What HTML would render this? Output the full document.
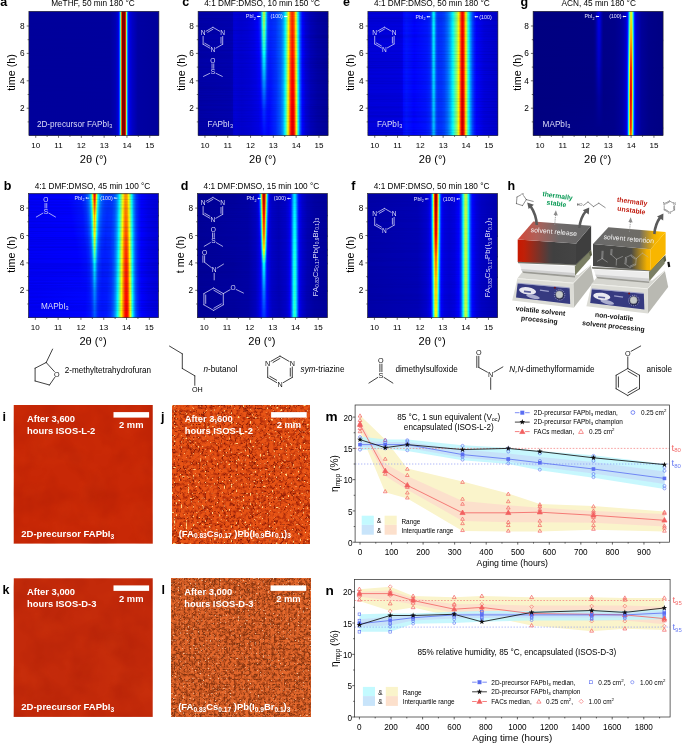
<!DOCTYPE html>
<html><head><meta charset="utf-8"><title>figure</title><style>html,body{margin:0;padding:0;background:#fff}svg{display:block;opacity:0.999}text{font-family:"Liberation Sans",sans-serif}</style></head><body><svg width="685" height="744" viewBox="0 0 685 744" font-family="Liberation Sans, sans-serif"><defs><linearGradient id="rg" x1="0" y1="0" x2="0" y2="1"><stop offset="0" stop-color="#000"/><stop offset="1" stop-color="#fff"/></linearGradient><mask id="ramp" maskContentUnits="objectBoundingBox"><rect width="1" height="1" fill="url(#rg)"/></mask><filter id="hn" x="0" y="0" width="100%" height="100%" color-interpolation-filters="sRGB"><feTurbulence type="fractalNoise" baseFrequency="0.004 0.7" numOctaves="2" seed="3"/><feColorMatrix type="matrix" values="0 0 0 0 0  0 0 0 0 0  0 0 0 0 0.2  1.6 0 0 0 -0.62"/></filter><linearGradient id="ga0" gradientUnits="userSpaceOnUse" x1="28.90" x2="158.90" y1="0" y2="0"><stop offset="0" stop-color="#00009b"/><stop offset=".6231" stop-color="#00009d"/><stop offset=".6654" stop-color="#0000b2"/><stop offset=".6808" stop-color="#0000cb"/><stop offset=".6885" stop-color="#0000e9"/><stop offset=".6923" stop-color="#000aff"/><stop offset=".6962" stop-color="#0043ff"/><stop offset=".7" stop-color="#009fff"/><stop offset=".7038" stop-color="#26ffd9"/><stop offset=".7077" stop-color="#d0ff2f"/><stop offset=".7115" stop-color="#ff7300"/><stop offset=".7154" stop-color="#c00000"/><stop offset=".7192" stop-color="#800000"/><stop offset=".7385" stop-color="#800000"/><stop offset=".7423" stop-color="#e50000"/><stop offset=".7462" stop-color="#ff9b00"/><stop offset=".75" stop-color="#acff53"/><stop offset=".7538" stop-color="#0cfff3"/><stop offset=".7577" stop-color="#0092ff"/><stop offset=".7615" stop-color="#0042ff"/><stop offset=".7654" stop-color="#0013ff"/><stop offset=".7692" stop-color="#0000f8"/><stop offset=".7769" stop-color="#0000e1"/><stop offset=".7962" stop-color="#0000c5"/><stop offset=".8385" stop-color="#0000a3"/><stop offset="1" stop-color="#00009b"/></linearGradient><linearGradient id="ga1" gradientUnits="userSpaceOnUse" x1="28.90" x2="158.90" y1="0" y2="0"><stop offset="0" stop-color="#00009b"/><stop offset=".6231" stop-color="#00009d"/><stop offset=".6654" stop-color="#0000b2"/><stop offset=".6808" stop-color="#0000cb"/><stop offset=".6885" stop-color="#0000e9"/><stop offset=".6923" stop-color="#000aff"/><stop offset=".6962" stop-color="#0043ff"/><stop offset=".7" stop-color="#009fff"/><stop offset=".7038" stop-color="#26ffd9"/><stop offset=".7077" stop-color="#d0ff2f"/><stop offset=".7115" stop-color="#ff7300"/><stop offset=".7154" stop-color="#c00000"/><stop offset=".7192" stop-color="#800000"/><stop offset=".7385" stop-color="#800000"/><stop offset=".7423" stop-color="#e50000"/><stop offset=".7462" stop-color="#ff9b00"/><stop offset=".75" stop-color="#acff53"/><stop offset=".7538" stop-color="#0cfff3"/><stop offset=".7577" stop-color="#0092ff"/><stop offset=".7615" stop-color="#0042ff"/><stop offset=".7654" stop-color="#0013ff"/><stop offset=".7692" stop-color="#0000f8"/><stop offset=".7769" stop-color="#0000e1"/><stop offset=".7962" stop-color="#0000c5"/><stop offset=".8385" stop-color="#0000a3"/><stop offset="1" stop-color="#00009b"/></linearGradient><linearGradient id="gc0" gradientUnits="userSpaceOnUse" x1="198.10" x2="328.10" y1="0" y2="0"><stop offset="0" stop-color="#0000a7"/><stop offset=".25" stop-color="#0000b1"/><stop offset=".2654" stop-color="#0000b6"/><stop offset=".2692" stop-color="#0000d0"/><stop offset=".2846" stop-color="#0000d8"/><stop offset=".3308" stop-color="#0000d0"/><stop offset=".3769" stop-color="#0000d7"/><stop offset=".4231" stop-color="#0000e6"/><stop offset=".4538" stop-color="#0000fd"/><stop offset=".4692" stop-color="#0018ff"/><stop offset=".4769" stop-color="#0038ff"/><stop offset=".4808" stop-color="#0056ff"/><stop offset=".4846" stop-color="#0082ff"/><stop offset=".4923" stop-color="#04fffb"/><stop offset=".5" stop-color="#8fff70"/><stop offset=".5038" stop-color="#baff45"/><stop offset=".5077" stop-color="#c5ff3a"/><stop offset=".5115" stop-color="#aeff51"/><stop offset=".5154" stop-color="#7cff83"/><stop offset=".5192" stop-color="#38ffc7"/><stop offset=".5231" stop-color="#00f0ff"/><stop offset=".5269" stop-color="#00b1ff"/><stop offset=".5308" stop-color="#007fff"/><stop offset=".5346" stop-color="#005dff"/><stop offset=".5385" stop-color="#0047ff"/><stop offset=".5462" stop-color="#0032ff"/><stop offset=".5615" stop-color="#0029ff"/><stop offset=".6" stop-color="#0039ff"/><stop offset=".6346" stop-color="#0065ff"/><stop offset=".6538" stop-color="#009cff"/><stop offset=".6615" stop-color="#00c1ff"/><stop offset=".6692" stop-color="#00f2ff"/><stop offset=".6731" stop-color="#11ffee"/><stop offset=".6846" stop-color="#7eff81"/><stop offset=".6962" stop-color="#ffff00"/><stop offset=".7038" stop-color="#ffac00"/><stop offset=".7115" stop-color="#ff6700"/><stop offset=".7192" stop-color="#ff3b00"/><stop offset=".7269" stop-color="#ff2e00"/><stop offset=".7308" stop-color="#ff3600"/><stop offset=".7385" stop-color="#ff6600"/><stop offset=".7423" stop-color="#ff8c00"/><stop offset=".75" stop-color="#ffed00"/><stop offset=".7538" stop-color="#daff25"/><stop offset=".7692" stop-color="#00fdff"/><stop offset=".7769" stop-color="#00a4ff"/><stop offset=".7846" stop-color="#0060ff"/><stop offset=".7923" stop-color="#002fff"/><stop offset=".8038" stop-color="#0001ff"/><stop offset=".8269" stop-color="#0000d5"/><stop offset=".8654" stop-color="#0000b7"/><stop offset=".9192" stop-color="#0000a4"/><stop offset="1" stop-color="#000099"/></linearGradient><linearGradient id="gc1" gradientUnits="userSpaceOnUse" x1="198.10" x2="328.10" y1="0" y2="0"><stop offset="0" stop-color="#0000a7"/><stop offset=".25" stop-color="#0000b0"/><stop offset=".2654" stop-color="#0000b5"/><stop offset=".2692" stop-color="#0000d0"/><stop offset=".2846" stop-color="#0000d8"/><stop offset=".3308" stop-color="#0000d0"/><stop offset=".3808" stop-color="#0000d7"/><stop offset=".4269" stop-color="#0000e6"/><stop offset=".4577" stop-color="#0000fd"/><stop offset=".4692" stop-color="#0011ff"/><stop offset=".4769" stop-color="#002dff"/><stop offset=".4808" stop-color="#0047ff"/><stop offset=".4846" stop-color="#006eff"/><stop offset=".4923" stop-color="#00dfff"/><stop offset=".4962" stop-color="#20ffdf"/><stop offset=".5" stop-color="#59ffa6"/><stop offset=".5038" stop-color="#7eff81"/><stop offset=".5077" stop-color="#88ff77"/><stop offset=".5115" stop-color="#74ff8b"/><stop offset=".5154" stop-color="#49ffb6"/><stop offset=".5192" stop-color="#0efff1"/><stop offset=".5231" stop-color="#00cfff"/><stop offset=".5269" stop-color="#0099ff"/><stop offset=".5308" stop-color="#006eff"/><stop offset=".5346" stop-color="#0050ff"/><stop offset=".5423" stop-color="#0032ff"/><stop offset=".5577" stop-color="#0025ff"/><stop offset=".5962" stop-color="#0034ff"/><stop offset=".6308" stop-color="#005dff"/><stop offset=".6423" stop-color="#0076ff"/><stop offset=".6538" stop-color="#009cff"/><stop offset=".6615" stop-color="#00c2ff"/><stop offset=".6692" stop-color="#00f5ff"/><stop offset=".6731" stop-color="#14ffeb"/><stop offset=".6769" stop-color="#36ffc9"/><stop offset=".6923" stop-color="#d9ff26"/><stop offset=".6962" stop-color="#fff900"/><stop offset=".7077" stop-color="#ff8000"/><stop offset=".7154" stop-color="#ff4500"/><stop offset=".7231" stop-color="#ff2700"/><stop offset=".7269" stop-color="#ff2400"/><stop offset=".7308" stop-color="#ff2b00"/><stop offset=".7385" stop-color="#ff5b00"/><stop offset=".7423" stop-color="#ff8200"/><stop offset=".75" stop-color="#ffe500"/><stop offset=".7538" stop-color="#e1ff1e"/><stop offset=".7692" stop-color="#01fffe"/><stop offset=".7769" stop-color="#00a6ff"/><stop offset=".7846" stop-color="#0060ff"/><stop offset=".7923" stop-color="#002fff"/><stop offset=".8038" stop-color="#0001ff"/><stop offset=".8269" stop-color="#0000d5"/><stop offset=".8654" stop-color="#0000b7"/><stop offset=".9192" stop-color="#0000a4"/><stop offset="1" stop-color="#000099"/></linearGradient><linearGradient id="gc2" gradientUnits="userSpaceOnUse" x1="198.10" x2="328.10" y1="0" y2="0"><stop offset="0" stop-color="#0000a7"/><stop offset=".25" stop-color="#0000b0"/><stop offset=".2654" stop-color="#0000b5"/><stop offset=".2692" stop-color="#0000cf"/><stop offset=".2846" stop-color="#0000d7"/><stop offset=".3308" stop-color="#0000cf"/><stop offset=".3846" stop-color="#0000d6"/><stop offset=".4346" stop-color="#0000e5"/><stop offset=".4654" stop-color="#0000fc"/><stop offset=".4731" stop-color="#000bff"/><stop offset=".4808" stop-color="#002aff"/><stop offset=".4885" stop-color="#0069ff"/><stop offset=".5" stop-color="#00ebff"/><stop offset=".5038" stop-color="#06fff9"/><stop offset=".5077" stop-color="#0dfff2"/><stop offset=".5115" stop-color="#00ffff"/><stop offset=".5154" stop-color="#00e1ff"/><stop offset=".5269" stop-color="#0068ff"/><stop offset=".5346" stop-color="#0036ff"/><stop offset=".5423" stop-color="#0023ff"/><stop offset=".5538" stop-color="#001cff"/><stop offset=".5923" stop-color="#002dff"/><stop offset=".6308" stop-color="#005bff"/><stop offset=".6423" stop-color="#0075ff"/><stop offset=".6538" stop-color="#009eff"/><stop offset=".6615" stop-color="#00c5ff"/><stop offset=".6692" stop-color="#00faff"/><stop offset=".6769" stop-color="#3dffc2"/><stop offset=".6923" stop-color="#e4ff1b"/><stop offset=".6962" stop-color="#ffed00"/><stop offset=".7077" stop-color="#ff7100"/><stop offset=".7154" stop-color="#ff3400"/><stop offset=".7231" stop-color="#ff1400"/><stop offset=".7269" stop-color="#ff1000"/><stop offset=".7308" stop-color="#ff1600"/><stop offset=".7385" stop-color="#ff4600"/><stop offset=".7423" stop-color="#ff6e00"/><stop offset=".75" stop-color="#ffd400"/><stop offset=".7538" stop-color="#f0ff0f"/><stop offset=".7692" stop-color="#07fff8"/><stop offset=".7731" stop-color="#00d5ff"/><stop offset=".7808" stop-color="#0082ff"/><stop offset=".7885" stop-color="#0046ff"/><stop offset=".7962" stop-color="#001dff"/><stop offset=".8038" stop-color="#0001ff"/><stop offset=".8269" stop-color="#0000d5"/><stop offset=".8654" stop-color="#0000b7"/><stop offset=".9192" stop-color="#0000a4"/><stop offset="1" stop-color="#000099"/></linearGradient><linearGradient id="gc3" gradientUnits="userSpaceOnUse" x1="198.10" x2="328.10" y1="0" y2="0"><stop offset="0" stop-color="#0000a7"/><stop offset=".25" stop-color="#0000af"/><stop offset=".2654" stop-color="#0000b4"/><stop offset=".2692" stop-color="#0000ce"/><stop offset=".2846" stop-color="#0000d6"/><stop offset=".3346" stop-color="#0000ce"/><stop offset=".3923" stop-color="#0000d5"/><stop offset=".4462" stop-color="#0000e5"/><stop offset=".4731" stop-color="#0000fa"/><stop offset=".4769" stop-color="#0004ff"/><stop offset=".4846" stop-color="#0020ff"/><stop offset=".5" stop-color="#0087ff"/><stop offset=".5077" stop-color="#009cff"/><stop offset=".5154" stop-color="#0083ff"/><stop offset=".5269" stop-color="#003cff"/><stop offset=".5346" stop-color="#001fff"/><stop offset=".5462" stop-color="#0013ff"/><stop offset=".5615" stop-color="#0016ff"/><stop offset=".6038" stop-color="#0034ff"/><stop offset=".6346" stop-color="#0062ff"/><stop offset=".6538" stop-color="#00a0ff"/><stop offset=".6615" stop-color="#00c9ff"/><stop offset=".6692" stop-color="#00ffff"/><stop offset=".6808" stop-color="#6cff93"/><stop offset=".6923" stop-color="#f0ff0f"/><stop offset=".6962" stop-color="#ffe000"/><stop offset=".7038" stop-color="#ff8900"/><stop offset=".7115" stop-color="#ff4000"/><stop offset=".7192" stop-color="#ff0f00"/><stop offset=".7231" stop-color="#ff0100"/><stop offset=".7308" stop-color="#ff0100"/><stop offset=".7346" stop-color="#ff1300"/><stop offset=".7423" stop-color="#ff5900"/><stop offset=".75" stop-color="#ffc300"/><stop offset=".7538" stop-color="#ffff00"/><stop offset=".7692" stop-color="#0dfff2"/><stop offset=".7731" stop-color="#00d9ff"/><stop offset=".7808" stop-color="#0084ff"/><stop offset=".7885" stop-color="#0047ff"/><stop offset=".7962" stop-color="#001dff"/><stop offset=".8038" stop-color="#0001ff"/><stop offset=".8269" stop-color="#0000d5"/><stop offset=".8654" stop-color="#0000b7"/><stop offset=".9192" stop-color="#0000a4"/><stop offset="1" stop-color="#000099"/></linearGradient><linearGradient id="gc4" gradientUnits="userSpaceOnUse" x1="198.10" x2="328.10" y1="0" y2="0"><stop offset="0" stop-color="#0000a7"/><stop offset=".25" stop-color="#0000af"/><stop offset=".2654" stop-color="#0000b4"/><stop offset=".2692" stop-color="#0000ce"/><stop offset=".2846" stop-color="#0000d6"/><stop offset=".3346" stop-color="#0000cd"/><stop offset=".4115" stop-color="#0000d7"/><stop offset=".4654" stop-color="#0000e7"/><stop offset=".4846" stop-color="#0000fd"/><stop offset=".5" stop-color="#002cff"/><stop offset=".5077" stop-color="#0036ff"/><stop offset=".5308" stop-color="#000dff"/><stop offset=".55" stop-color="#0009ff"/><stop offset=".5962" stop-color="#0029ff"/><stop offset=".6308" stop-color="#0058ff"/><stop offset=".65" stop-color="#0091ff"/><stop offset=".6577" stop-color="#00b6ff"/><stop offset=".6692" stop-color="#06fff9"/><stop offset=".6808" stop-color="#75ff8a"/><stop offset=".6923" stop-color="#fbff04"/><stop offset=".7077" stop-color="#ff5300"/><stop offset=".7154" stop-color="#ff1300"/><stop offset=".7192" stop-color="#fc0000"/><stop offset=".7269" stop-color="#e80000"/><stop offset=".7308" stop-color="#eb0000"/><stop offset=".7346" stop-color="#fc0000"/><stop offset=".7385" stop-color="#ff1b00"/><stop offset=".7423" stop-color="#ff4400"/><stop offset=".7462" stop-color="#ff7700"/><stop offset=".7538" stop-color="#fff000"/><stop offset=".7577" stop-color="#cdff32"/><stop offset=".7692" stop-color="#13ffec"/><stop offset=".7731" stop-color="#00ddff"/><stop offset=".7808" stop-color="#0086ff"/><stop offset=".7885" stop-color="#0048ff"/><stop offset=".7962" stop-color="#001dff"/><stop offset=".8038" stop-color="#0001ff"/><stop offset=".8269" stop-color="#0000d5"/><stop offset=".8654" stop-color="#0000b7"/><stop offset=".9192" stop-color="#0000a4"/><stop offset="1" stop-color="#000098"/></linearGradient><linearGradient id="gc5" gradientUnits="userSpaceOnUse" x1="198.10" x2="328.10" y1="0" y2="0"><stop offset="0" stop-color="#0000a6"/><stop offset=".25" stop-color="#0000af"/><stop offset=".2654" stop-color="#0000b4"/><stop offset=".2692" stop-color="#0000ce"/><stop offset=".2885" stop-color="#0000d7"/><stop offset=".3346" stop-color="#0000cd"/><stop offset=".4" stop-color="#0000d4"/><stop offset=".4692" stop-color="#0000e4"/><stop offset=".4962" stop-color="#0002ff"/><stop offset=".5077" stop-color="#000dff"/><stop offset=".5423" stop-color="#0002ff"/><stop offset=".5962" stop-color="#0027ff"/><stop offset=".6308" stop-color="#0058ff"/><stop offset=".65" stop-color="#0093ff"/><stop offset=".6577" stop-color="#00baff"/><stop offset=".6654" stop-color="#00edff"/><stop offset=".6692" stop-color="#0dfff2"/><stop offset=".6769" stop-color="#55ffaa"/><stop offset=".6885" stop-color="#d8ff27"/><stop offset=".6923" stop-color="#fff700"/><stop offset=".7038" stop-color="#ff6d00"/><stop offset=".7115" stop-color="#ff2100"/><stop offset=".7154" stop-color="#ff0300"/><stop offset=".7192" stop-color="#eb0000"/><stop offset=".7269" stop-color="#d40000"/><stop offset=".7308" stop-color="#d60000"/><stop offset=".7385" stop-color="#ff0500"/><stop offset=".7462" stop-color="#ff6300"/><stop offset=".7538" stop-color="#ffe100"/><stop offset=".7577" stop-color="#daff25"/><stop offset=".7692" stop-color="#19ffe6"/><stop offset=".7731" stop-color="#00e2ff"/><stop offset=".7808" stop-color="#0088ff"/><stop offset=".7885" stop-color="#0048ff"/><stop offset=".7962" stop-color="#001dff"/><stop offset=".8038" stop-color="#0001ff"/><stop offset=".8269" stop-color="#0000d6"/><stop offset=".8654" stop-color="#0000b8"/><stop offset=".9192" stop-color="#0000a4"/><stop offset="1" stop-color="#000098"/></linearGradient><linearGradient id="ge0" gradientUnits="userSpaceOnUse" x1="367.90" x2="497.90" y1="0" y2="0"><stop offset="0" stop-color="#0000da"/><stop offset=".2423" stop-color="#0000df"/><stop offset=".2654" stop-color="#0000e6"/><stop offset=".2692" stop-color="#0007ff"/><stop offset=".2962" stop-color="#0015ff"/><stop offset=".3577" stop-color="#0003ff"/><stop offset=".4577" stop-color="#0017ff"/><stop offset=".4769" stop-color="#0028ff"/><stop offset=".4846" stop-color="#0044ff"/><stop offset=".4885" stop-color="#005fff"/><stop offset=".5" stop-color="#00ddff"/><stop offset=".5038" stop-color="#00f7ff"/><stop offset=".5077" stop-color="#00faff"/><stop offset=".5115" stop-color="#00e3ff"/><stop offset=".5231" stop-color="#006aff"/><stop offset=".5308" stop-color="#003fff"/><stop offset=".5423" stop-color="#0030ff"/><stop offset=".5654" stop-color="#0032ff"/><stop offset=".5885" stop-color="#0043ff"/><stop offset=".6115" stop-color="#006aff"/><stop offset=".6308" stop-color="#00a1ff"/><stop offset=".6538" stop-color="#02fffd"/><stop offset=".6846" stop-color="#9cff63"/><stop offset=".6962" stop-color="#ebff14"/><stop offset=".7" stop-color="#fff100"/><stop offset=".7192" stop-color="#ff2400"/><stop offset=".7231" stop-color="#ff0b00"/><stop offset=".7269" stop-color="#fe0000"/><stop offset=".7308" stop-color="#ff0400"/><stop offset=".7346" stop-color="#ff1900"/><stop offset=".7385" stop-color="#ff3c00"/><stop offset=".75" stop-color="#ffd400"/><stop offset=".7538" stop-color="#f5ff0a"/><stop offset=".7654" stop-color="#67ff98"/><stop offset=".7731" stop-color="#1bffe4"/><stop offset=".7769" stop-color="#00f7ff"/><stop offset=".7885" stop-color="#009fff"/><stop offset=".8038" stop-color="#004cff"/><stop offset=".8192" stop-color="#001bff"/><stop offset=".8346" stop-color="#0001ff"/><stop offset=".8923" stop-color="#0000dc"/><stop offset="1" stop-color="#0000ca"/></linearGradient><linearGradient id="ge1" gradientUnits="userSpaceOnUse" x1="367.90" x2="497.90" y1="0" y2="0"><stop offset="0" stop-color="#0000da"/><stop offset=".2385" stop-color="#0000df"/><stop offset=".2654" stop-color="#0000e6"/><stop offset=".2692" stop-color="#0007ff"/><stop offset=".2962" stop-color="#0015ff"/><stop offset=".35" stop-color="#0003ff"/><stop offset=".4423" stop-color="#0011ff"/><stop offset=".4692" stop-color="#001fff"/><stop offset=".4808" stop-color="#002eff"/><stop offset=".4885" stop-color="#004dff"/><stop offset=".5" stop-color="#00a0ff"/><stop offset=".5038" stop-color="#00b2ff"/><stop offset=".5077" stop-color="#00b3ff"/><stop offset=".5115" stop-color="#00a5ff"/><stop offset=".5231" stop-color="#0057ff"/><stop offset=".5308" stop-color="#003bff"/><stop offset=".5423" stop-color="#0030ff"/><stop offset=".5654" stop-color="#0032ff"/><stop offset=".5885" stop-color="#0043ff"/><stop offset=".6115" stop-color="#006aff"/><stop offset=".6308" stop-color="#00a1ff"/><stop offset=".6538" stop-color="#02fffd"/><stop offset=".6846" stop-color="#9eff61"/><stop offset=".6962" stop-color="#f5ff0a"/><stop offset=".7" stop-color="#ffe200"/><stop offset=".7038" stop-color="#ffb400"/><stop offset=".7154" stop-color="#ff1a00"/><stop offset=".7192" stop-color="#ee0000"/><stop offset=".7231" stop-color="#cf0000"/><stop offset=".7269" stop-color="#c20000"/><stop offset=".7308" stop-color="#c70000"/><stop offset=".7385" stop-color="#ff0a00"/><stop offset=".7538" stop-color="#fff700"/><stop offset=".7654" stop-color="#6cff93"/><stop offset=".7731" stop-color="#1cffe3"/><stop offset=".7769" stop-color="#00f8ff"/><stop offset=".7885" stop-color="#009fff"/><stop offset=".8038" stop-color="#004cff"/><stop offset=".8192" stop-color="#001bff"/><stop offset=".8346" stop-color="#0001ff"/><stop offset=".8923" stop-color="#0000dc"/><stop offset="1" stop-color="#0000ca"/></linearGradient><linearGradient id="gg0" gradientUnits="userSpaceOnUse" x1="533.10" x2="663.10" y1="0" y2="0"><stop offset="0" stop-color="#000081"/><stop offset=".4615" stop-color="#000083"/><stop offset=".4769" stop-color="#000091"/><stop offset=".4846" stop-color="#0000a5"/><stop offset=".5" stop-color="#0000e1"/><stop offset=".5077" stop-color="#0000ec"/><stop offset=".5154" stop-color="#0000dc"/><stop offset=".5308" stop-color="#0000a1"/><stop offset=".5423" stop-color="#00008a"/><stop offset=".6269" stop-color="#00008b"/><stop offset=".6654" stop-color="#000095"/><stop offset=".6923" stop-color="#0000a8"/><stop offset=".7115" stop-color="#0000c6"/><stop offset=".7231" stop-color="#0000f3"/><stop offset=".7269" stop-color="#0013ff"/><stop offset=".7308" stop-color="#0042ff"/><stop offset=".7346" stop-color="#0084ff"/><stop offset=".7385" stop-color="#00d9ff"/><stop offset=".7423" stop-color="#38ffc7"/><stop offset=".7462" stop-color="#90ff6f"/><stop offset=".75" stop-color="#d0ff2f"/><stop offset=".7538" stop-color="#e9ff16"/><stop offset=".7577" stop-color="#d7ff28"/><stop offset=".7615" stop-color="#9cff63"/><stop offset=".7654" stop-color="#47ffb8"/><stop offset=".7692" stop-color="#00e8ff"/><stop offset=".7731" stop-color="#0091ff"/><stop offset=".7769" stop-color="#004bff"/><stop offset=".7808" stop-color="#001aff"/><stop offset=".7846" stop-color="#0000f7"/><stop offset=".7923" stop-color="#0000d2"/><stop offset=".8" stop-color="#0000bf"/><stop offset=".8346" stop-color="#000099"/><stop offset=".8885" stop-color="#00008a"/><stop offset="1" stop-color="#000083"/></linearGradient><linearGradient id="gg1" gradientUnits="userSpaceOnUse" x1="533.10" x2="663.10" y1="0" y2="0"><stop offset="0" stop-color="#000081"/><stop offset=".4615" stop-color="#000083"/><stop offset=".4769" stop-color="#00008e"/><stop offset=".5" stop-color="#0000ce"/><stop offset=".5077" stop-color="#0000d7"/><stop offset=".5154" stop-color="#0000cb"/><stop offset=".5308" stop-color="#00009b"/><stop offset=".5423" stop-color="#000089"/><stop offset=".6269" stop-color="#00008b"/><stop offset=".6692" stop-color="#000097"/><stop offset=".6962" stop-color="#0000ad"/><stop offset=".7115" stop-color="#0000c7"/><stop offset=".7192" stop-color="#0000e3"/><stop offset=".7231" stop-color="#0000fc"/><stop offset=".7269" stop-color="#0023ff"/><stop offset=".7308" stop-color="#005fff"/><stop offset=".7346" stop-color="#00b5ff"/><stop offset=".7385" stop-color="#25ffda"/><stop offset=".7423" stop-color="#9fff60"/><stop offset=".7462" stop-color="#ffee00"/><stop offset=".75" stop-color="#ff9f00"/><stop offset=".7538" stop-color="#ff8600"/><stop offset=".7577" stop-color="#ffa800"/><stop offset=".7615" stop-color="#fffd00"/><stop offset=".7692" stop-color="#14ffeb"/><stop offset=".7731" stop-color="#00a7ff"/><stop offset=".7769" stop-color="#0055ff"/><stop offset=".7808" stop-color="#001dff"/><stop offset=".7846" stop-color="#0000f7"/><stop offset=".7923" stop-color="#0000d1"/><stop offset=".8" stop-color="#0000be"/><stop offset=".8346" stop-color="#000099"/><stop offset=".8885" stop-color="#00008a"/><stop offset="1" stop-color="#000083"/></linearGradient><linearGradient id="gg2" gradientUnits="userSpaceOnUse" x1="533.10" x2="663.10" y1="0" y2="0"><stop offset="0" stop-color="#000081"/><stop offset=".4615" stop-color="#000083"/><stop offset=".4769" stop-color="#00008b"/><stop offset=".5" stop-color="#0000bc"/><stop offset=".5077" stop-color="#0000c2"/><stop offset=".5308" stop-color="#000095"/><stop offset=".5423" stop-color="#000088"/><stop offset=".6192" stop-color="#00008a"/><stop offset=".6615" stop-color="#000094"/><stop offset=".6885" stop-color="#0000a5"/><stop offset=".7077" stop-color="#0000c0"/><stop offset=".7192" stop-color="#0000e8"/><stop offset=".7231" stop-color="#0006ff"/><stop offset=".7269" stop-color="#0035ff"/><stop offset=".7308" stop-color="#0080ff"/><stop offset=".7346" stop-color="#00eaff"/><stop offset=".7385" stop-color="#73ff8c"/><stop offset=".7423" stop-color="#fff600"/><stop offset=".7462" stop-color="#ff7000"/><stop offset=".75" stop-color="#ff1700"/><stop offset=".7538" stop-color="#ff0300"/><stop offset=".7577" stop-color="#ff3800"/><stop offset=".7615" stop-color="#ffa800"/><stop offset=".7654" stop-color="#c5ff3a"/><stop offset=".7692" stop-color="#34ffcb"/><stop offset=".7731" stop-color="#00b6ff"/><stop offset=".7769" stop-color="#005bff"/><stop offset=".7808" stop-color="#001dff"/><stop offset=".7846" stop-color="#0000f6"/><stop offset=".7923" stop-color="#0000cf"/><stop offset=".8" stop-color="#0000bd"/><stop offset=".8346" stop-color="#000099"/><stop offset=".8923" stop-color="#000089"/><stop offset="1" stop-color="#000083"/></linearGradient><linearGradient id="gg3" gradientUnits="userSpaceOnUse" x1="533.10" x2="663.10" y1="0" y2="0"><stop offset="0" stop-color="#000081"/><stop offset=".4615" stop-color="#000083"/><stop offset=".4769" stop-color="#000087"/><stop offset=".5077" stop-color="#0000a3"/><stop offset=".5423" stop-color="#000086"/><stop offset=".6231" stop-color="#00008b"/><stop offset=".6615" stop-color="#000095"/><stop offset=".6885" stop-color="#0000a6"/><stop offset=".7077" stop-color="#0000c1"/><stop offset=".7192" stop-color="#0000ec"/><stop offset=".7231" stop-color="#000eff"/><stop offset=".7269" stop-color="#0043ff"/><stop offset=".7308" stop-color="#0097ff"/><stop offset=".7346" stop-color="#0efff1"/><stop offset=".7385" stop-color="#a2ff5d"/><stop offset=".7423" stop-color="#ffbd00"/><stop offset=".7462" stop-color="#ff3300"/><stop offset=".75" stop-color="#dd0000"/><stop offset=".7538" stop-color="#d30000"/><stop offset=".7577" stop-color="#ff1800"/><stop offset=".7615" stop-color="#ff9700"/><stop offset=".7654" stop-color="#caff35"/><stop offset=".7692" stop-color="#31ffce"/><stop offset=".7731" stop-color="#00b1ff"/><stop offset=".7769" stop-color="#0055ff"/><stop offset=".7808" stop-color="#0019ff"/><stop offset=".7846" stop-color="#0000f3"/><stop offset=".7923" stop-color="#0000ce"/><stop offset=".8" stop-color="#0000bb"/><stop offset=".8346" stop-color="#000099"/><stop offset=".8923" stop-color="#000089"/><stop offset="1" stop-color="#000083"/></linearGradient><linearGradient id="gg4" gradientUnits="userSpaceOnUse" x1="533.10" x2="663.10" y1="0" y2="0"><stop offset="0" stop-color="#000081"/><stop offset=".6231" stop-color="#00008b"/><stop offset=".6615" stop-color="#000095"/><stop offset=".6885" stop-color="#0000a6"/><stop offset=".7077" stop-color="#0000c3"/><stop offset=".7154" stop-color="#0000da"/><stop offset=".7192" stop-color="#0000f0"/><stop offset=".7231" stop-color="#0013ff"/><stop offset=".7269" stop-color="#0049ff"/><stop offset=".7308" stop-color="#009cff"/><stop offset=".7346" stop-color="#0ffff0"/><stop offset=".7385" stop-color="#9aff65"/><stop offset=".7423" stop-color="#ffd400"/><stop offset=".7462" stop-color="#ff5e00"/><stop offset=".75" stop-color="#ff1d00"/><stop offset=".7538" stop-color="#ff2100"/><stop offset=".7577" stop-color="#ff6a00"/><stop offset=".7615" stop-color="#ffe500"/><stop offset=".7654" stop-color="#89ff76"/><stop offset=".7692" stop-color="#00ffff"/><stop offset=".7731" stop-color="#0090ff"/><stop offset=".7769" stop-color="#0041ff"/><stop offset=".7808" stop-color="#000eff"/><stop offset=".7846" stop-color="#0000ed"/><stop offset=".7923" stop-color="#0000cb"/><stop offset=".8" stop-color="#0000ba"/><stop offset=".8346" stop-color="#000098"/><stop offset=".8923" stop-color="#000089"/><stop offset="1" stop-color="#000083"/></linearGradient><linearGradient id="gg5" gradientUnits="userSpaceOnUse" x1="533.10" x2="663.10" y1="0" y2="0"><stop offset="0" stop-color="#000081"/><stop offset=".6231" stop-color="#00008b"/><stop offset=".6615" stop-color="#000095"/><stop offset=".6885" stop-color="#0000a6"/><stop offset=".7077" stop-color="#0000c3"/><stop offset=".7192" stop-color="#0000ef"/><stop offset=".7231" stop-color="#0011ff"/><stop offset=".7269" stop-color="#0044ff"/><stop offset=".7308" stop-color="#0092ff"/><stop offset=".7346" stop-color="#00fcff"/><stop offset=".7385" stop-color="#7bff84"/><stop offset=".7423" stop-color="#fcff03"/><stop offset=".7462" stop-color="#ff9a00"/><stop offset=".75" stop-color="#ff6200"/><stop offset=".7538" stop-color="#ff6900"/><stop offset=".7577" stop-color="#ffac00"/><stop offset=".7615" stop-color="#e2ff1d"/><stop offset=".7654" stop-color="#60ff9f"/><stop offset=".7692" stop-color="#00e3ff"/><stop offset=".7731" stop-color="#007fff"/><stop offset=".7769" stop-color="#0038ff"/><stop offset=".7808" stop-color="#0009ff"/><stop offset=".7846" stop-color="#0000ea"/><stop offset=".7923" stop-color="#0000cb"/><stop offset=".8038" stop-color="#0000b4"/><stop offset=".8385" stop-color="#000096"/><stop offset=".8923" stop-color="#000089"/><stop offset="1" stop-color="#000083"/></linearGradient><linearGradient id="gb0" gradientUnits="userSpaceOnUse" x1="28.50" x2="158.50" y1="0" y2="0"><stop offset="0" stop-color="#0000f7"/><stop offset=".2808" stop-color="#0000ff"/><stop offset=".3577" stop-color="#0009ff"/><stop offset=".4038" stop-color="#0019ff"/><stop offset=".4346" stop-color="#0034ff"/><stop offset=".4538" stop-color="#005cff"/><stop offset=".4615" stop-color="#0078ff"/><stop offset=".4692" stop-color="#00a2ff"/><stop offset=".4769" stop-color="#00e1ff"/><stop offset=".4808" stop-color="#0dfff2"/><stop offset=".4846" stop-color="#44ffbb"/><stop offset=".4885" stop-color="#87ff78"/><stop offset=".4923" stop-color="#d8ff27"/><stop offset=".4962" stop-color="#ffc900"/><stop offset=".5" stop-color="#ff6a00"/><stop offset=".5038" stop-color="#ff1b00"/><stop offset=".5077" stop-color="#f20000"/><stop offset=".5115" stop-color="#ff0100"/><stop offset=".5154" stop-color="#ff3f00"/><stop offset=".5231" stop-color="#fff700"/><stop offset=".5308" stop-color="#67ff98"/><stop offset=".5346" stop-color="#2cffd3"/><stop offset=".5385" stop-color="#00fbff"/><stop offset=".5423" stop-color="#00d5ff"/><stop offset=".55" stop-color="#009fff"/><stop offset=".5654" stop-color="#0063ff"/><stop offset=".5846" stop-color="#0044ff"/><stop offset=".6115" stop-color="#0036ff"/><stop offset=".6423" stop-color="#003cff"/><stop offset=".6654" stop-color="#0059ff"/><stop offset=".6808" stop-color="#008cff"/><stop offset=".6885" stop-color="#00b4ff"/><stop offset=".7" stop-color="#05fffa"/><stop offset=".7269" stop-color="#f7ff08"/><stop offset=".7385" stop-color="#ffb400"/><stop offset=".7462" stop-color="#ff9b00"/><stop offset=".7538" stop-color="#ffa000"/><stop offset=".7577" stop-color="#ffae00"/><stop offset=".7654" stop-color="#ffe000"/><stop offset=".7692" stop-color="#fdff02"/><stop offset=".7923" stop-color="#12ffed"/><stop offset=".7962" stop-color="#00edff"/><stop offset=".8077" stop-color="#0093ff"/><stop offset=".8192" stop-color="#0056ff"/><stop offset=".8308" stop-color="#0031ff"/><stop offset=".85" stop-color="#0011ff"/><stop offset=".8692" stop-color="#0000ff"/><stop offset=".9231" stop-color="#0000e7"/><stop offset="1" stop-color="#0000da"/></linearGradient><linearGradient id="gb1" gradientUnits="userSpaceOnUse" x1="28.50" x2="158.50" y1="0" y2="0"><stop offset="0" stop-color="#0000f7"/><stop offset=".2962" stop-color="#0000ff"/><stop offset=".4077" stop-color="#0017ff"/><stop offset=".4385" stop-color="#0032ff"/><stop offset=".4577" stop-color="#005bff"/><stop offset=".4692" stop-color="#008dff"/><stop offset=".4769" stop-color="#00c6ff"/><stop offset=".4808" stop-color="#00edff"/><stop offset=".4846" stop-color="#1fffe0"/><stop offset=".4885" stop-color="#5dffa2"/><stop offset=".4962" stop-color="#ffff00"/><stop offset=".5" stop-color="#ffa400"/><stop offset=".5038" stop-color="#ff5800"/><stop offset=".5077" stop-color="#ff3100"/><stop offset=".5115" stop-color="#ff3e00"/><stop offset=".5154" stop-color="#ff7b00"/><stop offset=".5192" stop-color="#ffd100"/><stop offset=".5231" stop-color="#d4ff2b"/><stop offset=".5269" stop-color="#83ff7c"/><stop offset=".5308" stop-color="#40ffbf"/><stop offset=".5346" stop-color="#0afff5"/><stop offset=".5385" stop-color="#00deff"/><stop offset=".5423" stop-color="#00bcff"/><stop offset=".55" stop-color="#008cff"/><stop offset=".5654" stop-color="#0058ff"/><stop offset=".5885" stop-color="#003aff"/><stop offset=".6192" stop-color="#0032ff"/><stop offset=".6462" stop-color="#003dff"/><stop offset=".6654" stop-color="#005aff"/><stop offset=".6808" stop-color="#008fff"/><stop offset=".6962" stop-color="#00edff"/><stop offset=".7" stop-color="#0cfff3"/><stop offset=".7269" stop-color="#fffd00"/><stop offset=".7385" stop-color="#ffaa00"/><stop offset=".7462" stop-color="#ff8f00"/><stop offset=".75" stop-color="#ff8d00"/><stop offset=".7577" stop-color="#ffa100"/><stop offset=".7615" stop-color="#ffb700"/><stop offset=".7692" stop-color="#fff600"/><stop offset=".7731" stop-color="#e3ff1c"/><stop offset=".7923" stop-color="#18ffe7"/><stop offset=".7962" stop-color="#00f2ff"/><stop offset=".8077" stop-color="#0096ff"/><stop offset=".8192" stop-color="#0057ff"/><stop offset=".8308" stop-color="#0031ff"/><stop offset=".85" stop-color="#0011ff"/><stop offset=".8692" stop-color="#0000ff"/><stop offset=".9231" stop-color="#0000e7"/><stop offset="1" stop-color="#0000d9"/></linearGradient><linearGradient id="gb2" gradientUnits="userSpaceOnUse" x1="28.50" x2="158.50" y1="0" y2="0"><stop offset="0" stop-color="#0000f7"/><stop offset=".3192" stop-color="#0000ff"/><stop offset=".4192" stop-color="#0015ff"/><stop offset=".4462" stop-color="#002eff"/><stop offset=".4654" stop-color="#0059ff"/><stop offset=".4769" stop-color="#0094ff"/><stop offset=".4846" stop-color="#00daff"/><stop offset=".4885" stop-color="#0dfff2"/><stop offset=".4923" stop-color="#4cffb3"/><stop offset=".5" stop-color="#e7ff18"/><stop offset=".5038" stop-color="#ffd000"/><stop offset=".5077" stop-color="#ffab00"/><stop offset=".5115" stop-color="#ffb800"/><stop offset=".5154" stop-color="#fff000"/><stop offset=".5192" stop-color="#c0ff3f"/><stop offset=".5269" stop-color="#2dffd2"/><stop offset=".5308" stop-color="#00f5ff"/><stop offset=".5346" stop-color="#00caff"/><stop offset=".5423" stop-color="#008eff"/><stop offset=".5538" stop-color="#005dff"/><stop offset=".5731" stop-color="#003aff"/><stop offset=".6038" stop-color="#002bff"/><stop offset=".6385" stop-color="#0034ff"/><stop offset=".6615" stop-color="#0053ff"/><stop offset=".6731" stop-color="#0076ff"/><stop offset=".6808" stop-color="#0098ff"/><stop offset=".6962" stop-color="#00fbff"/><stop offset=".7038" stop-color="#3dffc2"/><stop offset=".7231" stop-color="#f1ff0e"/><stop offset=".7269" stop-color="#ffea00"/><stop offset=".7385" stop-color="#ff9500"/><stop offset=".7462" stop-color="#ff7700"/><stop offset=".75" stop-color="#ff7400"/><stop offset=".7577" stop-color="#ff8700"/><stop offset=".7615" stop-color="#ff9e00"/><stop offset=".7692" stop-color="#ffde00"/><stop offset=".7731" stop-color="#f9ff06"/><stop offset=".7885" stop-color="#4dffb2"/><stop offset=".7962" stop-color="#00fcff"/><stop offset=".8077" stop-color="#009bff"/><stop offset=".8192" stop-color="#005aff"/><stop offset=".8308" stop-color="#0032ff"/><stop offset=".85" stop-color="#0011ff"/><stop offset=".8692" stop-color="#0000ff"/><stop offset=".9231" stop-color="#0000e7"/><stop offset="1" stop-color="#0000d9"/></linearGradient><linearGradient id="gb3" gradientUnits="userSpaceOnUse" x1="28.50" x2="158.50" y1="0" y2="0"><stop offset="0" stop-color="#0000f7"/><stop offset=".3462" stop-color="#0000ff"/><stop offset=".4269" stop-color="#0011ff"/><stop offset=".4538" stop-color="#0027ff"/><stop offset=".4692" stop-color="#0048ff"/><stop offset=".4808" stop-color="#007eff"/><stop offset=".4885" stop-color="#00c3ff"/><stop offset=".4923" stop-color="#00f6ff"/><stop offset=".4962" stop-color="#38ffc7"/><stop offset=".5038" stop-color="#c7ff38"/><stop offset=".5077" stop-color="#edff12"/><stop offset=".5115" stop-color="#e0ff1f"/><stop offset=".5154" stop-color="#a7ff58"/><stop offset=".5231" stop-color="#17ffe8"/><stop offset=".5269" stop-color="#00ddff"/><stop offset=".5308" stop-color="#00b1ff"/><stop offset=".5385" stop-color="#0077ff"/><stop offset=".55" stop-color="#004bff"/><stop offset=".5654" stop-color="#0031ff"/><stop offset=".5923" stop-color="#0024ff"/><stop offset=".6308" stop-color="#002cff"/><stop offset=".6538" stop-color="#0047ff"/><stop offset=".6731" stop-color="#0081ff"/><stop offset=".6846" stop-color="#00bfff"/><stop offset=".6923" stop-color="#00f4ff"/><stop offset=".6962" stop-color="#14ffeb"/><stop offset=".7" stop-color="#34ffcb"/><stop offset=".7192" stop-color="#e9ff16"/><stop offset=".7231" stop-color="#fff000"/><stop offset=".7308" stop-color="#ffab00"/><stop offset=".7385" stop-color="#ff7400"/><stop offset=".7462" stop-color="#ff5300"/><stop offset=".75" stop-color="#ff4e00"/><stop offset=".7538" stop-color="#ff5100"/><stop offset=".7615" stop-color="#ff7500"/><stop offset=".7731" stop-color="#ffe200"/><stop offset=".7769" stop-color="#efff10"/><stop offset=".7962" stop-color="#0dfff2"/><stop offset=".8" stop-color="#00e6ff"/><stop offset=".8115" stop-color="#0089ff"/><stop offset=".8231" stop-color="#004eff"/><stop offset=".8346" stop-color="#002bff"/><stop offset=".85" stop-color="#0011ff"/><stop offset=".8692" stop-color="#0000ff"/><stop offset=".9231" stop-color="#0000e6"/><stop offset="1" stop-color="#0000d9"/></linearGradient><linearGradient id="gb4" gradientUnits="userSpaceOnUse" x1="28.50" x2="158.50" y1="0" y2="0"><stop offset="0" stop-color="#0000f7"/><stop offset=".3654" stop-color="#0000ff"/><stop offset=".4385" stop-color="#000fff"/><stop offset=".4615" stop-color="#0023ff"/><stop offset=".4769" stop-color="#0047ff"/><stop offset=".4846" stop-color="#006eff"/><stop offset=".4885" stop-color="#008bff"/><stop offset=".4923" stop-color="#00b3ff"/><stop offset=".4962" stop-color="#00e7ff"/><stop offset=".5" stop-color="#27ffd8"/><stop offset=".5038" stop-color="#64ff9b"/><stop offset=".5077" stop-color="#87ff78"/><stop offset=".5115" stop-color="#7aff85"/><stop offset=".5154" stop-color="#47ffb8"/><stop offset=".5192" stop-color="#07fff8"/><stop offset=".5231" stop-color="#00cdff"/><stop offset=".5308" stop-color="#007fff"/><stop offset=".5423" stop-color="#0048ff"/><stop offset=".5615" stop-color="#0028ff"/><stop offset=".5885" stop-color="#001eff"/><stop offset=".6269" stop-color="#0028ff"/><stop offset=".6538" stop-color="#004aff"/><stop offset=".6731" stop-color="#008aff"/><stop offset=".6923" stop-color="#04fffb"/><stop offset=".7038" stop-color="#68ff97"/><stop offset=".7192" stop-color="#fdff02"/><stop offset=".7308" stop-color="#ff9800"/><stop offset=".7385" stop-color="#ff5f00"/><stop offset=".7462" stop-color="#ff3b00"/><stop offset=".7538" stop-color="#ff3700"/><stop offset=".7577" stop-color="#ff4400"/><stop offset=".7654" stop-color="#ff7900"/><stop offset=".7769" stop-color="#fff900"/><stop offset=".7962" stop-color="#19ffe6"/><stop offset=".8" stop-color="#00f0ff"/><stop offset=".8115" stop-color="#008fff"/><stop offset=".8231" stop-color="#0050ff"/><stop offset=".8346" stop-color="#002cff"/><stop offset=".85" stop-color="#0011ff"/><stop offset=".8692" stop-color="#0000ff"/><stop offset=".9231" stop-color="#0000e6"/><stop offset="1" stop-color="#0000d9"/></linearGradient><linearGradient id="gb5" gradientUnits="userSpaceOnUse" x1="28.50" x2="158.50" y1="0" y2="0"><stop offset="0" stop-color="#0000f6"/><stop offset=".3808" stop-color="#0000ff"/><stop offset=".4462" stop-color="#000dff"/><stop offset=".4692" stop-color="#0021ff"/><stop offset=".4846" stop-color="#0049ff"/><stop offset=".4923" stop-color="#0076ff"/><stop offset=".5038" stop-color="#00e3ff"/><stop offset=".5077" stop-color="#00f8ff"/><stop offset=".5115" stop-color="#00f1ff"/><stop offset=".5269" stop-color="#006cff"/><stop offset=".5346" stop-color="#0047ff"/><stop offset=".5423" stop-color="#0033ff"/><stop offset=".5692" stop-color="#001cff"/><stop offset=".6115" stop-color="#001fff"/><stop offset=".6385" stop-color="#0032ff"/><stop offset=".6577" stop-color="#0057ff"/><stop offset=".6731" stop-color="#0093ff"/><stop offset=".6885" stop-color="#00f3ff"/><stop offset=".6923" stop-color="#12ffed"/><stop offset=".7154" stop-color="#e6ff19"/><stop offset=".7192" stop-color="#fff300"/><stop offset=".7308" stop-color="#ff8900"/><stop offset=".7385" stop-color="#ff4f00"/><stop offset=".7462" stop-color="#ff2a00"/><stop offset=".75" stop-color="#ff2200"/><stop offset=".7538" stop-color="#ff2300"/><stop offset=".7615" stop-color="#ff4500"/><stop offset=".7692" stop-color="#ff8b00"/><stop offset=".7769" stop-color="#ffe700"/><stop offset=".7808" stop-color="#e4ff1b"/><stop offset=".7923" stop-color="#50ffaf"/><stop offset=".8" stop-color="#00f8ff"/><stop offset=".8115" stop-color="#0093ff"/><stop offset=".8231" stop-color="#0053ff"/><stop offset=".8346" stop-color="#002dff"/><stop offset=".85" stop-color="#0012ff"/><stop offset=".8692" stop-color="#0000ff"/><stop offset=".9231" stop-color="#0000e6"/><stop offset="1" stop-color="#0000d9"/></linearGradient><linearGradient id="gb6" gradientUnits="userSpaceOnUse" x1="28.50" x2="158.50" y1="0" y2="0"><stop offset="0" stop-color="#0000f6"/><stop offset=".4423" stop-color="#0007ff"/><stop offset=".4654" stop-color="#0011ff"/><stop offset=".4808" stop-color="#0024ff"/><stop offset=".4923" stop-color="#0045ff"/><stop offset=".5038" stop-color="#007eff"/><stop offset=".5077" stop-color="#0088ff"/><stop offset=".5115" stop-color="#0085ff"/><stop offset=".5308" stop-color="#0036ff"/><stop offset=".5423" stop-color="#0021ff"/><stop offset=".5654" stop-color="#0016ff"/><stop offset=".6038" stop-color="#001aff"/><stop offset=".6346" stop-color="#0030ff"/><stop offset=".6538" stop-color="#0057ff"/><stop offset=".6692" stop-color="#0091ff"/><stop offset=".6846" stop-color="#00eeff"/><stop offset=".6885" stop-color="#0cfff3"/><stop offset=".7154" stop-color="#fbff04"/><stop offset=".7385" stop-color="#ff3e00"/><stop offset=".7462" stop-color="#ff1600"/><stop offset=".75" stop-color="#ff0b00"/><stop offset=".7577" stop-color="#ff1200"/><stop offset=".7615" stop-color="#ff2700"/><stop offset=".7692" stop-color="#ff6c00"/><stop offset=".7769" stop-color="#ffcb00"/><stop offset=".7808" stop-color="#feff01"/><stop offset=".7923" stop-color="#63ff9c"/><stop offset=".8" stop-color="#07fff8"/><stop offset=".8038" stop-color="#00deff"/><stop offset=".8115" stop-color="#009cff"/><stop offset=".8231" stop-color="#0057ff"/><stop offset=".8346" stop-color="#002fff"/><stop offset=".8538" stop-color="#000eff"/><stop offset=".8731" stop-color="#0000fd"/><stop offset=".9231" stop-color="#0000e7"/><stop offset="1" stop-color="#0000d9"/></linearGradient><linearGradient id="gb7" gradientUnits="userSpaceOnUse" x1="28.50" x2="158.50" y1="0" y2="0"><stop offset="0" stop-color="#0000f6"/><stop offset=".4346" stop-color="#0003ff"/><stop offset=".4769" stop-color="#0014ff"/><stop offset=".4885" stop-color="#0025ff"/><stop offset=".5077" stop-color="#0055ff"/><stop offset=".5115" stop-color="#0053ff"/><stop offset=".5308" stop-color="#0026ff"/><stop offset=".5423" stop-color="#0019ff"/><stop offset=".5654" stop-color="#0013ff"/><stop offset=".6" stop-color="#0018ff"/><stop offset=".6308" stop-color="#0030ff"/><stop offset=".65" stop-color="#0057ff"/><stop offset=".6654" stop-color="#0091ff"/><stop offset=".6846" stop-color="#06fff9"/><stop offset=".6962" stop-color="#63ff9c"/><stop offset=".7115" stop-color="#ecff13"/><stop offset=".7154" stop-color="#ffef00"/><stop offset=".7385" stop-color="#ff2d00"/><stop offset=".7462" stop-color="#ff0100"/><stop offset=".75" stop-color="#f40000"/><stop offset=".7538" stop-color="#ef0000"/><stop offset=".7615" stop-color="#ff0800"/><stop offset=".7692" stop-color="#ff4c00"/><stop offset=".7808" stop-color="#ffe400"/><stop offset=".7846" stop-color="#e2ff1d"/><stop offset=".8" stop-color="#16ffe9"/><stop offset=".8038" stop-color="#00ebff"/><stop offset=".8115" stop-color="#00a5ff"/><stop offset=".8231" stop-color="#005cff"/><stop offset=".8346" stop-color="#0032ff"/><stop offset=".8538" stop-color="#0010ff"/><stop offset=".8731" stop-color="#0000fe"/><stop offset=".9231" stop-color="#0000e7"/><stop offset="1" stop-color="#0000d9"/></linearGradient><linearGradient id="gd0" gradientUnits="userSpaceOnUse" x1="197.40" x2="327.40" y1="0" y2="0"><stop offset="0" stop-color="#000097"/><stop offset=".2769" stop-color="#00009b"/><stop offset=".3923" stop-color="#0000a5"/><stop offset=".45" stop-color="#0000c0"/><stop offset=".4615" stop-color="#0000d4"/><stop offset=".4692" stop-color="#0000f6"/><stop offset=".4731" stop-color="#0015ff"/><stop offset=".4769" stop-color="#0041ff"/><stop offset=".4808" stop-color="#007fff"/><stop offset=".4846" stop-color="#00d3ff"/><stop offset=".4885" stop-color="#3cffc3"/><stop offset=".4923" stop-color="#b4ff4b"/><stop offset=".4962" stop-color="#ffc900"/><stop offset=".5" stop-color="#ff4f00"/><stop offset=".5038" stop-color="#e70000"/><stop offset=".5077" stop-color="#a30000"/><stop offset=".5115" stop-color="#8b0000"/><stop offset=".5154" stop-color="#a10000"/><stop offset=".5192" stop-color="#e40000"/><stop offset=".5231" stop-color="#ff4a00"/><stop offset=".5269" stop-color="#ffc400"/><stop offset=".5308" stop-color="#baff45"/><stop offset=".5346" stop-color="#41ffbe"/><stop offset=".5385" stop-color="#00d8ff"/><stop offset=".5423" stop-color="#0084ff"/><stop offset=".5462" stop-color="#0045ff"/><stop offset=".55" stop-color="#0019ff"/><stop offset=".5538" stop-color="#0000fa"/><stop offset=".5615" stop-color="#0000d9"/><stop offset=".5731" stop-color="#0000c6"/><stop offset=".6231" stop-color="#0000b5"/><stop offset=".6769" stop-color="#0000c6"/><stop offset=".6962" stop-color="#0000d9"/><stop offset=".7115" stop-color="#0000f7"/><stop offset=".7154" stop-color="#0005ff"/><stop offset=".7231" stop-color="#002eff"/><stop offset=".7385" stop-color="#00b8ff"/><stop offset=".7423" stop-color="#00d3ff"/><stop offset=".7462" stop-color="#00e2ff"/><stop offset=".75" stop-color="#00e2ff"/><stop offset=".7538" stop-color="#00d2ff"/><stop offset=".7731" stop-color="#002cff"/><stop offset=".7808" stop-color="#0003ff"/><stop offset=".8038" stop-color="#0000d1"/><stop offset=".8423" stop-color="#0000b2"/><stop offset=".9" stop-color="#0000a3"/><stop offset="1" stop-color="#00009b"/></linearGradient><linearGradient id="gd1" gradientUnits="userSpaceOnUse" x1="197.40" x2="327.40" y1="0" y2="0"><stop offset="0" stop-color="#000097"/><stop offset=".3885" stop-color="#0000a5"/><stop offset=".45" stop-color="#0000c0"/><stop offset=".4654" stop-color="#0000d6"/><stop offset=".4731" stop-color="#0000f3"/><stop offset=".4769" stop-color="#000fff"/><stop offset=".4808" stop-color="#0039ff"/><stop offset=".4846" stop-color="#0077ff"/><stop offset=".4885" stop-color="#00cdff"/><stop offset=".4923" stop-color="#3affc5"/><stop offset=".4962" stop-color="#b6ff49"/><stop offset=".5" stop-color="#ffc900"/><stop offset=".5038" stop-color="#ff5a00"/><stop offset=".5077" stop-color="#ff0d00"/><stop offset=".5115" stop-color="#f00000"/><stop offset=".5154" stop-color="#ff0b00"/><stop offset=".5192" stop-color="#ff5600"/><stop offset=".5231" stop-color="#ffc400"/><stop offset=".5269" stop-color="#bcff43"/><stop offset=".5308" stop-color="#3fffc0"/><stop offset=".5346" stop-color="#00d2ff"/><stop offset=".5385" stop-color="#007cff"/><stop offset=".5423" stop-color="#003dff"/><stop offset=".5462" stop-color="#0013ff"/><stop offset=".55" stop-color="#0000f7"/><stop offset=".5577" stop-color="#0000da"/><stop offset=".5731" stop-color="#0000c5"/><stop offset=".6231" stop-color="#0000b5"/><stop offset=".6769" stop-color="#0000c6"/><stop offset=".7" stop-color="#0000df"/><stop offset=".7115" stop-color="#0000f9"/><stop offset=".7154" stop-color="#0008ff"/><stop offset=".7231" stop-color="#0035ff"/><stop offset=".7385" stop-color="#00caff"/><stop offset=".7423" stop-color="#00e7ff"/><stop offset=".7462" stop-color="#00f6ff"/><stop offset=".75" stop-color="#00f6ff"/><stop offset=".7538" stop-color="#00e6ff"/><stop offset=".7577" stop-color="#00c8ff"/><stop offset=".7731" stop-color="#0033ff"/><stop offset=".7808" stop-color="#0005ff"/><stop offset=".7846" stop-color="#0000f6"/><stop offset=".8077" stop-color="#0000cc"/><stop offset=".8462" stop-color="#0000b0"/><stop offset=".9038" stop-color="#0000a2"/><stop offset="1" stop-color="#00009b"/></linearGradient><linearGradient id="gd2" gradientUnits="userSpaceOnUse" x1="197.40" x2="327.40" y1="0" y2="0"><stop offset="0" stop-color="#000097"/><stop offset=".3885" stop-color="#0000a5"/><stop offset=".45" stop-color="#0000c0"/><stop offset=".4692" stop-color="#0000d9"/><stop offset=".4769" stop-color="#0000f2"/><stop offset=".4808" stop-color="#000bff"/><stop offset=".4846" stop-color="#0031ff"/><stop offset=".4885" stop-color="#006eff"/><stop offset=".4923" stop-color="#00c5ff"/><stop offset=".4962" stop-color="#35ffca"/><stop offset=".5" stop-color="#b2ff4d"/><stop offset=".5038" stop-color="#ffd600"/><stop offset=".5077" stop-color="#ff8100"/><stop offset=".5115" stop-color="#ff6100"/><stop offset=".5154" stop-color="#ff7f00"/><stop offset=".5192" stop-color="#ffd200"/><stop offset=".5231" stop-color="#b7ff48"/><stop offset=".5269" stop-color="#3affc5"/><stop offset=".5308" stop-color="#00c9ff"/><stop offset=".5346" stop-color="#0072ff"/><stop offset=".5385" stop-color="#0035ff"/><stop offset=".5423" stop-color="#000eff"/><stop offset=".5462" stop-color="#0000f5"/><stop offset=".5538" stop-color="#0000dd"/><stop offset=".5731" stop-color="#0000c5"/><stop offset=".6269" stop-color="#0000b5"/><stop offset=".6808" stop-color="#0000c9"/><stop offset=".7" stop-color="#0000df"/><stop offset=".7115" stop-color="#0000fa"/><stop offset=".7154" stop-color="#000bff"/><stop offset=".7231" stop-color="#003cff"/><stop offset=".7385" stop-color="#00dbff"/><stop offset=".7423" stop-color="#00faff"/><stop offset=".7462" stop-color="#0cfff3"/><stop offset=".7538" stop-color="#00f9ff"/><stop offset=".7577" stop-color="#00daff"/><stop offset=".7731" stop-color="#003aff"/><stop offset=".7808" stop-color="#0008ff"/><stop offset=".7846" stop-color="#0000f8"/><stop offset=".7923" stop-color="#0000e3"/><stop offset=".8077" stop-color="#0000cc"/><stop offset=".8462" stop-color="#0000b0"/><stop offset=".9038" stop-color="#0000a2"/><stop offset="1" stop-color="#00009b"/></linearGradient><linearGradient id="gd3" gradientUnits="userSpaceOnUse" x1="197.40" x2="327.40" y1="0" y2="0"><stop offset="0" stop-color="#000097"/><stop offset=".3885" stop-color="#0000a5"/><stop offset=".45" stop-color="#0000c0"/><stop offset=".4692" stop-color="#0000d8"/><stop offset=".4808" stop-color="#0000f7"/><stop offset=".4846" stop-color="#0010ff"/><stop offset=".4885" stop-color="#0037ff"/><stop offset=".4923" stop-color="#0075ff"/><stop offset=".4962" stop-color="#00cdff"/><stop offset=".5" stop-color="#3affc5"/><stop offset=".5038" stop-color="#a7ff58"/><stop offset=".5077" stop-color="#f9ff06"/><stop offset=".5115" stop-color="#ffe600"/><stop offset=".5154" stop-color="#fbff04"/><stop offset=".5192" stop-color="#aaff55"/><stop offset=".5231" stop-color="#3effc1"/><stop offset=".5269" stop-color="#00d2ff"/><stop offset=".5308" stop-color="#0079ff"/><stop offset=".5346" stop-color="#003aff"/><stop offset=".5385" stop-color="#0013ff"/><stop offset=".5423" stop-color="#0000fa"/><stop offset=".5538" stop-color="#0000dc"/><stop offset=".5731" stop-color="#0000c5"/><stop offset=".6231" stop-color="#0000b5"/><stop offset=".6808" stop-color="#0000c9"/><stop offset=".7" stop-color="#0000df"/><stop offset=".7115" stop-color="#0000fc"/><stop offset=".7154" stop-color="#000dff"/><stop offset=".7231" stop-color="#0041ff"/><stop offset=".7385" stop-color="#00e7ff"/><stop offset=".7423" stop-color="#08fff7"/><stop offset=".7462" stop-color="#19ffe6"/><stop offset=".75" stop-color="#19ffe6"/><stop offset=".7538" stop-color="#07fff8"/><stop offset=".7577" stop-color="#00e6ff"/><stop offset=".7731" stop-color="#003fff"/><stop offset=".7808" stop-color="#000bff"/><stop offset=".7846" stop-color="#0000f9"/><stop offset=".7923" stop-color="#0000e3"/><stop offset=".8077" stop-color="#0000cc"/><stop offset=".8462" stop-color="#0000b0"/><stop offset=".9038" stop-color="#0000a2"/><stop offset="1" stop-color="#00009b"/></linearGradient><linearGradient id="gd4" gradientUnits="userSpaceOnUse" x1="197.40" x2="327.40" y1="0" y2="0"><stop offset="0" stop-color="#000097"/><stop offset=".3885" stop-color="#0000a5"/><stop offset=".4462" stop-color="#0000bc"/><stop offset=".4692" stop-color="#0000d8"/><stop offset=".4808" stop-color="#0000f3"/><stop offset=".4846" stop-color="#0006ff"/><stop offset=".4885" stop-color="#0024ff"/><stop offset=".4923" stop-color="#0054ff"/><stop offset=".4962" stop-color="#009aff"/><stop offset=".5" stop-color="#00f3ff"/><stop offset=".5038" stop-color="#50ffaf"/><stop offset=".5077" stop-color="#97ff68"/><stop offset=".5115" stop-color="#b2ff4d"/><stop offset=".5154" stop-color="#99ff66"/><stop offset=".5192" stop-color="#53ffac"/><stop offset=".5231" stop-color="#00f7ff"/><stop offset=".5269" stop-color="#009eff"/><stop offset=".5308" stop-color="#0057ff"/><stop offset=".5346" stop-color="#0027ff"/><stop offset=".5385" stop-color="#0009ff"/><stop offset=".5423" stop-color="#0000f6"/><stop offset=".5538" stop-color="#0000db"/><stop offset=".5731" stop-color="#0000c5"/><stop offset=".6269" stop-color="#0000b5"/><stop offset=".6808" stop-color="#0000c9"/><stop offset=".7" stop-color="#0000df"/><stop offset=".7115" stop-color="#0000fc"/><stop offset=".7154" stop-color="#000eff"/><stop offset=".7231" stop-color="#0043ff"/><stop offset=".7385" stop-color="#00ecff"/><stop offset=".7423" stop-color="#0dfff2"/><stop offset=".7462" stop-color="#1fffe0"/><stop offset=".75" stop-color="#1effe1"/><stop offset=".7538" stop-color="#0cfff3"/><stop offset=".7577" stop-color="#00eaff"/><stop offset=".7731" stop-color="#0041ff"/><stop offset=".7808" stop-color="#000bff"/><stop offset=".7846" stop-color="#0000fa"/><stop offset=".7923" stop-color="#0000e4"/><stop offset=".8077" stop-color="#0000cc"/><stop offset=".8462" stop-color="#0000b0"/><stop offset=".9038" stop-color="#0000a2"/><stop offset="1" stop-color="#00009b"/></linearGradient><linearGradient id="gd5" gradientUnits="userSpaceOnUse" x1="197.40" x2="327.40" y1="0" y2="0"><stop offset="0" stop-color="#000097"/><stop offset=".2769" stop-color="#00009b"/><stop offset=".3923" stop-color="#0000a5"/><stop offset=".45" stop-color="#0000c0"/><stop offset=".4692" stop-color="#0000d8"/><stop offset=".4846" stop-color="#0000fb"/><stop offset=".4885" stop-color="#000fff"/><stop offset=".4923" stop-color="#002cff"/><stop offset=".4962" stop-color="#0057ff"/><stop offset=".5038" stop-color="#00ccff"/><stop offset=".5077" stop-color="#00fbff"/><stop offset=".5115" stop-color="#0ffff0"/><stop offset=".5154" stop-color="#00fdff"/><stop offset=".5192" stop-color="#00ceff"/><stop offset=".5269" stop-color="#0059ff"/><stop offset=".5308" stop-color="#002eff"/><stop offset=".5385" stop-color="#0000fe"/><stop offset=".55" stop-color="#0000e2"/><stop offset=".5692" stop-color="#0000c9"/><stop offset=".6231" stop-color="#0000b5"/><stop offset=".6808" stop-color="#0000c9"/><stop offset=".7" stop-color="#0000df"/><stop offset=".7115" stop-color="#0000fd"/><stop offset=".7154" stop-color="#000fff"/><stop offset=".7231" stop-color="#0046ff"/><stop offset=".7385" stop-color="#00f0ff"/><stop offset=".7423" stop-color="#11ffee"/><stop offset=".7462" stop-color="#22ffdd"/><stop offset=".75" stop-color="#22ffdd"/><stop offset=".7538" stop-color="#10ffef"/><stop offset=".7577" stop-color="#00eeff"/><stop offset=".7731" stop-color="#0043ff"/><stop offset=".7808" stop-color="#000dff"/><stop offset=".7846" stop-color="#0000fa"/><stop offset=".7923" stop-color="#0000e4"/><stop offset=".8077" stop-color="#0000cc"/><stop offset=".8462" stop-color="#0000b0"/><stop offset=".9038" stop-color="#0000a2"/><stop offset="1" stop-color="#00009b"/></linearGradient><linearGradient id="gd6" gradientUnits="userSpaceOnUse" x1="197.40" x2="327.40" y1="0" y2="0"><stop offset="0" stop-color="#000097"/><stop offset=".3885" stop-color="#0000a5"/><stop offset=".4462" stop-color="#0000bc"/><stop offset=".4692" stop-color="#0000d8"/><stop offset=".4846" stop-color="#0000f8"/><stop offset=".4923" stop-color="#0015ff"/><stop offset=".5038" stop-color="#0062ff"/><stop offset=".5077" stop-color="#0077ff"/><stop offset=".5115" stop-color="#007fff"/><stop offset=".5154" stop-color="#0078ff"/><stop offset=".5192" stop-color="#0063ff"/><stop offset=".5308" stop-color="#0017ff"/><stop offset=".5385" stop-color="#0000fa"/><stop offset=".5538" stop-color="#0000db"/><stop offset=".5731" stop-color="#0000c5"/><stop offset=".6269" stop-color="#0000b5"/><stop offset=".6808" stop-color="#0000c9"/><stop offset=".7" stop-color="#0000e0"/><stop offset=".7115" stop-color="#0001ff"/><stop offset=".7192" stop-color="#002cff"/><stop offset=".7231" stop-color="#004dff"/><stop offset=".7385" stop-color="#00faff"/><stop offset=".7423" stop-color="#1affe5"/><stop offset=".7462" stop-color="#2bffd4"/><stop offset=".75" stop-color="#2bffd4"/><stop offset=".7577" stop-color="#00f8ff"/><stop offset=".7731" stop-color="#004aff"/><stop offset=".7808" stop-color="#0010ff"/><stop offset=".7846" stop-color="#0000fd"/><stop offset=".7923" stop-color="#0000e5"/><stop offset=".8038" stop-color="#0000d1"/><stop offset=".8423" stop-color="#0000b2"/><stop offset=".9" stop-color="#0000a3"/><stop offset="1" stop-color="#00009b"/></linearGradient><linearGradient id="gd7" gradientUnits="userSpaceOnUse" x1="197.40" x2="327.40" y1="0" y2="0"><stop offset="0" stop-color="#000097"/><stop offset=".2769" stop-color="#00009b"/><stop offset=".3923" stop-color="#0000a5"/><stop offset=".45" stop-color="#0000c0"/><stop offset=".4692" stop-color="#0000d8"/><stop offset=".4885" stop-color="#0001ff"/><stop offset=".5038" stop-color="#0028ff"/><stop offset=".5115" stop-color="#002eff"/><stop offset=".5192" stop-color="#0029ff"/><stop offset=".5385" stop-color="#0000f9"/><stop offset=".5577" stop-color="#0000d6"/><stop offset=".5769" stop-color="#0000c2"/><stop offset=".6346" stop-color="#0000b5"/><stop offset=".6808" stop-color="#0000c9"/><stop offset=".6962" stop-color="#0000da"/><stop offset=".7077" stop-color="#0000f4"/><stop offset=".7115" stop-color="#0003ff"/><stop offset=".7192" stop-color="#0032ff"/><stop offset=".7231" stop-color="#0054ff"/><stop offset=".7385" stop-color="#04fffb"/><stop offset=".7423" stop-color="#24ffdb"/><stop offset=".7462" stop-color="#34ffcb"/><stop offset=".75" stop-color="#34ffcb"/><stop offset=".7538" stop-color="#23ffdc"/><stop offset=".7577" stop-color="#03fffc"/><stop offset=".7731" stop-color="#0052ff"/><stop offset=".7769" stop-color="#002fff"/><stop offset=".7846" stop-color="#0001ff"/><stop offset=".7923" stop-color="#0000e6"/><stop offset=".8038" stop-color="#0000d1"/><stop offset=".8423" stop-color="#0000b2"/><stop offset=".9" stop-color="#0000a3"/><stop offset="1" stop-color="#00009b"/></linearGradient><linearGradient id="gf0" gradientUnits="userSpaceOnUse" x1="367.60" x2="497.60" y1="0" y2="0"><stop offset="0" stop-color="#0000a8"/><stop offset=".3808" stop-color="#0000b4"/><stop offset=".45" stop-color="#0000cb"/><stop offset=".4654" stop-color="#0000d8"/><stop offset=".4769" stop-color="#0000f2"/><stop offset=".4808" stop-color="#0004ff"/><stop offset=".4846" stop-color="#001eff"/><stop offset=".4885" stop-color="#0043ff"/><stop offset=".4923" stop-color="#0079ff"/><stop offset=".4962" stop-color="#00c1ff"/><stop offset=".5" stop-color="#1effe1"/><stop offset=".5077" stop-color="#fffa00"/><stop offset=".5154" stop-color="#ff1200"/><stop offset=".5192" stop-color="#bb0000"/><stop offset=".5231" stop-color="#8b0000"/><stop offset=".5269" stop-color="#850000"/><stop offset=".5308" stop-color="#ac0000"/><stop offset=".5346" stop-color="#f80000"/><stop offset=".5385" stop-color="#ff6300"/><stop offset=".5423" stop-color="#ffdb00"/><stop offset=".5462" stop-color="#aaff55"/><stop offset=".55" stop-color="#39ffc6"/><stop offset=".5538" stop-color="#00d9ff"/><stop offset=".5577" stop-color="#008cff"/><stop offset=".5615" stop-color="#0053ff"/><stop offset=".5654" stop-color="#002bff"/><stop offset=".5692" stop-color="#000fff"/><stop offset=".5731" stop-color="#0000fc"/><stop offset=".5808" stop-color="#0000e8"/><stop offset=".5923" stop-color="#0000dc"/><stop offset=".6308" stop-color="#0000d2"/><stop offset=".6692" stop-color="#0000de"/><stop offset=".7" stop-color="#0001ff"/><stop offset=".7077" stop-color="#0015ff"/><stop offset=".7154" stop-color="#0037ff"/><stop offset=".7231" stop-color="#0071ff"/><stop offset=".7269" stop-color="#0099ff"/><stop offset=".7346" stop-color="#00fdff"/><stop offset=".7385" stop-color="#33ffcc"/><stop offset=".7462" stop-color="#91ff6e"/><stop offset=".75" stop-color="#b0ff4f"/><stop offset=".7538" stop-color="#c0ff3f"/><stop offset=".7577" stop-color="#beff41"/><stop offset=".7615" stop-color="#abff54"/><stop offset=".7654" stop-color="#89ff76"/><stop offset=".7731" stop-color="#27ffd8"/><stop offset=".7769" stop-color="#00f0ff"/><stop offset=".7846" stop-color="#008fff"/><stop offset=".7923" stop-color="#0048ff"/><stop offset=".8" stop-color="#001cff"/><stop offset=".8077" stop-color="#0004ff"/><stop offset=".8346" stop-color="#0000dc"/><stop offset=".8731" stop-color="#0000c4"/><stop offset="1" stop-color="#0000ae"/></linearGradient><linearGradient id="gf1" gradientUnits="userSpaceOnUse" x1="367.60" x2="497.60" y1="0" y2="0"><stop offset="0" stop-color="#0000a8"/><stop offset=".3885" stop-color="#0000b5"/><stop offset=".4538" stop-color="#0000cd"/><stop offset=".4692" stop-color="#0000dd"/><stop offset=".4808" stop-color="#0000fb"/><stop offset=".4846" stop-color="#0011ff"/><stop offset=".4885" stop-color="#002fff"/><stop offset=".4923" stop-color="#005cff"/><stop offset=".4962" stop-color="#0099ff"/><stop offset=".5" stop-color="#00e9ff"/><stop offset=".5038" stop-color="#4bffb4"/><stop offset=".5077" stop-color="#b8ff47"/><stop offset=".5115" stop-color="#ffd600"/><stop offset=".5154" stop-color="#ff6f00"/><stop offset=".5192" stop-color="#ff1f00"/><stop offset=".5231" stop-color="#f00000"/><stop offset=".5269" stop-color="#eb0000"/><stop offset=".5308" stop-color="#ff1000"/><stop offset=".5346" stop-color="#ff5800"/><stop offset=".5385" stop-color="#ffba00"/><stop offset=".5423" stop-color="#d5ff2a"/><stop offset=".55" stop-color="#03fffc"/><stop offset=".5538" stop-color="#00aeff"/><stop offset=".5577" stop-color="#006dff"/><stop offset=".5615" stop-color="#003dff"/><stop offset=".5692" stop-color="#0006ff"/><stop offset=".5731" stop-color="#0000f7"/><stop offset=".5923" stop-color="#0000dc"/><stop offset=".6308" stop-color="#0000d2"/><stop offset=".6692" stop-color="#0000de"/><stop offset=".7" stop-color="#0001ff"/><stop offset=".7077" stop-color="#0015ff"/><stop offset=".7154" stop-color="#0037ff"/><stop offset=".7231" stop-color="#0071ff"/><stop offset=".7269" stop-color="#0099ff"/><stop offset=".7346" stop-color="#00fdff"/><stop offset=".7385" stop-color="#33ffcc"/><stop offset=".7462" stop-color="#91ff6e"/><stop offset=".75" stop-color="#b0ff4f"/><stop offset=".7538" stop-color="#c0ff3f"/><stop offset=".7577" stop-color="#beff41"/><stop offset=".7615" stop-color="#abff54"/><stop offset=".7654" stop-color="#89ff76"/><stop offset=".7731" stop-color="#27ffd8"/><stop offset=".7769" stop-color="#00f0ff"/><stop offset=".7846" stop-color="#008fff"/><stop offset=".7923" stop-color="#0048ff"/><stop offset=".8" stop-color="#001cff"/><stop offset=".8077" stop-color="#0004ff"/><stop offset=".8346" stop-color="#0000dc"/><stop offset=".8731" stop-color="#0000c4"/><stop offset="1" stop-color="#0000ae"/></linearGradient><linearGradient id="gf2" gradientUnits="userSpaceOnUse" x1="367.60" x2="497.60" y1="0" y2="0"><stop offset="0" stop-color="#0000a8"/><stop offset=".3846" stop-color="#0000b4"/><stop offset=".45" stop-color="#0000cb"/><stop offset=".4692" stop-color="#0000dc"/><stop offset=".4808" stop-color="#0000f7"/><stop offset=".4846" stop-color="#0009ff"/><stop offset=".4923" stop-color="#0048ff"/><stop offset=".4962" stop-color="#007cff"/><stop offset=".5" stop-color="#00c0ff"/><stop offset=".5038" stop-color="#15ffea"/><stop offset=".5115" stop-color="#d5ff2a"/><stop offset=".5154" stop-color="#ffcf00"/><stop offset=".5192" stop-color="#ff8900"/><stop offset=".5231" stop-color="#ff6000"/><stop offset=".5269" stop-color="#ff5b00"/><stop offset=".5308" stop-color="#ff7b00"/><stop offset=".5346" stop-color="#ffbb00"/><stop offset=".5385" stop-color="#edff12"/><stop offset=".5462" stop-color="#2dffd2"/><stop offset=".55" stop-color="#00d6ff"/><stop offset=".5538" stop-color="#008fff"/><stop offset=".5577" stop-color="#0057ff"/><stop offset=".5615" stop-color="#002fff"/><stop offset=".5692" stop-color="#0001ff"/><stop offset=".5769" stop-color="#0000ec"/><stop offset=".5885" stop-color="#0000de"/><stop offset=".6269" stop-color="#0000d2"/><stop offset=".6692" stop-color="#0000de"/><stop offset=".7" stop-color="#0001ff"/><stop offset=".7115" stop-color="#0023ff"/><stop offset=".7192" stop-color="#0050ff"/><stop offset=".7269" stop-color="#0099ff"/><stop offset=".7346" stop-color="#00fdff"/><stop offset=".7462" stop-color="#91ff6e"/><stop offset=".75" stop-color="#b0ff4f"/><stop offset=".7538" stop-color="#c0ff3f"/><stop offset=".7577" stop-color="#beff41"/><stop offset=".7615" stop-color="#abff54"/><stop offset=".7654" stop-color="#89ff76"/><stop offset=".7731" stop-color="#27ffd8"/><stop offset=".7769" stop-color="#00f0ff"/><stop offset=".7846" stop-color="#008fff"/><stop offset=".7923" stop-color="#0048ff"/><stop offset=".8" stop-color="#001cff"/><stop offset=".8077" stop-color="#0004ff"/><stop offset=".8346" stop-color="#0000dc"/><stop offset=".8731" stop-color="#0000c4"/><stop offset="1" stop-color="#0000ae"/></linearGradient><linearGradient id="gf3" gradientUnits="userSpaceOnUse" x1="367.60" x2="497.60" y1="0" y2="0"><stop offset="0" stop-color="#0000a8"/><stop offset=".3846" stop-color="#0000b4"/><stop offset=".45" stop-color="#0000cb"/><stop offset=".4692" stop-color="#0000dc"/><stop offset=".4808" stop-color="#0000f3"/><stop offset=".4846" stop-color="#0004ff"/><stop offset=".4923" stop-color="#003aff"/><stop offset=".4962" stop-color="#0067ff"/><stop offset=".5" stop-color="#00a2ff"/><stop offset=".5038" stop-color="#00ecff"/><stop offset=".5077" stop-color="#41ffbe"/><stop offset=".5154" stop-color="#e9ff16"/><stop offset=".5192" stop-color="#ffd600"/><stop offset=".5231" stop-color="#ffb100"/><stop offset=".5269" stop-color="#ffad00"/><stop offset=".5308" stop-color="#ffca00"/><stop offset=".5346" stop-color="#fbff04"/><stop offset=".5462" stop-color="#03fffc"/><stop offset=".5538" stop-color="#0077ff"/><stop offset=".5577" stop-color="#0048ff"/><stop offset=".5615" stop-color="#0025ff"/><stop offset=".5692" stop-color="#0000fd"/><stop offset=".5885" stop-color="#0000de"/><stop offset=".6269" stop-color="#0000d2"/><stop offset=".6692" stop-color="#0000de"/><stop offset=".7" stop-color="#0001ff"/><stop offset=".7077" stop-color="#0015ff"/><stop offset=".7154" stop-color="#0037ff"/><stop offset=".7231" stop-color="#0071ff"/><stop offset=".7269" stop-color="#0099ff"/><stop offset=".7346" stop-color="#00fdff"/><stop offset=".7385" stop-color="#33ffcc"/><stop offset=".7462" stop-color="#91ff6e"/><stop offset=".75" stop-color="#b0ff4f"/><stop offset=".7538" stop-color="#c0ff3f"/><stop offset=".7577" stop-color="#beff41"/><stop offset=".7615" stop-color="#abff54"/><stop offset=".7654" stop-color="#89ff76"/><stop offset=".7731" stop-color="#27ffd8"/><stop offset=".7769" stop-color="#00f0ff"/><stop offset=".7846" stop-color="#008fff"/><stop offset=".7923" stop-color="#0048ff"/><stop offset=".8" stop-color="#001cff"/><stop offset=".8077" stop-color="#0004ff"/><stop offset=".8346" stop-color="#0000dc"/><stop offset=".8731" stop-color="#0000c4"/><stop offset="1" stop-color="#0000ae"/></linearGradient><linearGradient id="gf4" gradientUnits="userSpaceOnUse" x1="367.60" x2="497.60" y1="0" y2="0"><stop offset="0" stop-color="#0000a8"/><stop offset=".3885" stop-color="#0000b5"/><stop offset=".4538" stop-color="#0000cd"/><stop offset=".4731" stop-color="#0000e1"/><stop offset=".4846" stop-color="#0000fc"/><stop offset=".4885" stop-color="#000fff"/><stop offset=".4962" stop-color="#004eff"/><stop offset=".5" stop-color="#0080ff"/><stop offset=".5077" stop-color="#0afff5"/><stop offset=".5154" stop-color="#a0ff5f"/><stop offset=".5192" stop-color="#daff25"/><stop offset=".5231" stop-color="#fcff03"/><stop offset=".5269" stop-color="#fffe00"/><stop offset=".5308" stop-color="#e5ff1a"/><stop offset=".5346" stop-color="#b1ff4e"/><stop offset=".5423" stop-color="#1effe1"/><stop offset=".5462" stop-color="#00d3ff"/><stop offset=".55" stop-color="#0091ff"/><stop offset=".5538" stop-color="#005cff"/><stop offset=".5577" stop-color="#0035ff"/><stop offset=".5654" stop-color="#0006ff"/><stop offset=".5692" stop-color="#0000f9"/><stop offset=".5923" stop-color="#0000dc"/><stop offset=".6308" stop-color="#0000d2"/><stop offset=".6692" stop-color="#0000de"/><stop offset=".7" stop-color="#0001ff"/><stop offset=".7077" stop-color="#0015ff"/><stop offset=".7154" stop-color="#0037ff"/><stop offset=".7231" stop-color="#0071ff"/><stop offset=".7269" stop-color="#0099ff"/><stop offset=".7346" stop-color="#00fdff"/><stop offset=".7385" stop-color="#33ffcc"/><stop offset=".7462" stop-color="#91ff6e"/><stop offset=".75" stop-color="#b0ff4f"/><stop offset=".7538" stop-color="#c0ff3f"/><stop offset=".7577" stop-color="#beff41"/><stop offset=".7615" stop-color="#abff54"/><stop offset=".7654" stop-color="#89ff76"/><stop offset=".7731" stop-color="#27ffd8"/><stop offset=".7769" stop-color="#00f0ff"/><stop offset=".7846" stop-color="#008fff"/><stop offset=".7923" stop-color="#0048ff"/><stop offset=".8" stop-color="#001cff"/><stop offset=".8077" stop-color="#0004ff"/><stop offset=".8346" stop-color="#0000dc"/><stop offset=".8731" stop-color="#0000c4"/><stop offset="1" stop-color="#0000ae"/></linearGradient><linearGradient id="hL1" gradientUnits="userSpaceOnUse" x1="517" x2="576" y1="0" y2="0"><stop offset="0" stop-color="#c81800"/><stop offset=".12" stop-color="#c02008"/><stop offset=".55" stop-color="#484040"/><stop offset=".62" stop-color="#404040"/><stop offset="1" stop-color="#444"/></linearGradient><linearGradient id="hL2" gradientUnits="userSpaceOnUse" x1="520" x2="585" y1="0" y2="0"><stop offset="0" stop-color="#cf4a3c"/><stop offset=".25" stop-color="#b06058"/><stop offset=".6" stop-color="#6e6a6a"/><stop offset="1" stop-color="#666"/></linearGradient><linearGradient id="hR1" gradientUnits="userSpaceOnUse" x1="593" x2="651" y1="0" y2="0"><stop offset="0" stop-color="#484848"/><stop offset=".66" stop-color="#4a4a46"/><stop offset=".93" stop-color="#f2b000"/><stop offset="1" stop-color="#f7b500"/></linearGradient><linearGradient id="hR2" gradientUnits="userSpaceOnUse" x1="596" x2="662" y1="0" y2="0"><stop offset="0" stop-color="#6a6a6a"/><stop offset=".66" stop-color="#6e6c66"/><stop offset=".88" stop-color="#f0b000"/><stop offset="1" stop-color="#ffbe00"/></linearGradient><filter id="tsm" x="0" y="0" width="100%" height="100%" color-interpolation-filters="sRGB"><feTurbulence type="fractalNoise" baseFrequency="0.035" numOctaves="3" seed="4"/><feColorMatrix type="matrix" values="0 0 0 0 0.55  0 0 0 0 0.05  0 0 0 0 0  0 0 0 1.2 -0.45"/></filter><filter id="tsl" x="0" y="0" width="100%" height="100%" color-interpolation-filters="sRGB"><feTurbulence type="fractalNoise" baseFrequency="0.03" numOctaves="3" seed="11"/><feColorMatrix type="matrix" values="0 0 0 0 0.95  0 0 0 0 0.35  0 0 0 0 0.1  0 0 0 1.0 -0.42"/></filter><filter id="tj" x="0" y="0" width="100%" height="100%" color-interpolation-filters="sRGB"><feTurbulence type="turbulence" baseFrequency="0.16" numOctaves="2" seed="5" result="t"/><feColorMatrix in="t" type="matrix" values="0 0 0 0 0.52  0 0 0 0 0.10  0 0 0 0 0.02  -9 0 0 0 1.15" result="cr"/><feTurbulence type="fractalNoise" baseFrequency="0.42" numOctaves="1" seed="9" result="n"/><feColorMatrix in="n" type="matrix" values="0 0 0 0 1  0 0 0 0 0.86  0 0 0 0 0.55  12 0 0 0 -7.9" result="sp"/><feTurbulence type="fractalNoise" baseFrequency="0.3" numOctaves="2" seed="31" result="m"/><feColorMatrix in="m" type="matrix" values="0 0 0 0 0.62  0 0 0 0 0.12  0 0 0 0 0.02  0 2.2 0 0 -0.95" result="sh"/><feFlood flood-color="#e85415" result="b"/><feMerge><feMergeNode in="b"/><feMergeNode in="sh"/><feMergeNode in="cr"/><feMergeNode in="sp"/></feMerge></filter><filter id="tl" x="0" y="0" width="100%" height="100%" color-interpolation-filters="sRGB"><feTurbulence type="turbulence" baseFrequency="0.2" numOctaves="2" seed="17" result="t"/><feColorMatrix in="t" type="matrix" values="0 0 0 0 0.50  0 0 0 0 0.20  0 0 0 0 0.06  -8 0 0 0 1.2" result="cr"/><feTurbulence type="fractalNoise" baseFrequency="0.6" numOctaves="1" seed="23" result="n"/><feColorMatrix in="n" type="matrix" values="0 0 0 0 0.94  0 0 0 0 0.76  0 0 0 0 0.62  10 0 0 0 -6.75" result="sp"/><feTurbulence type="fractalNoise" baseFrequency="0.35" numOctaves="2" seed="41" result="m"/><feColorMatrix in="m" type="matrix" values="0 0 0 0 0.55  0 0 0 0 0.2  0 0 0 0 0.05  0 2.4 0 0 -0.95" result="sh"/><feFlood flood-color="#e4682c" result="b"/><feMerge><feMergeNode in="b"/><feMergeNode in="sh"/><feMergeNode in="cr"/><feMergeNode in="sp"/></feMerge></filter></defs><rect x="28.90" y="11.30" width="130.00" height="124.30" fill="url(#ga0)"/><rect x="28.90" y="11.30" width="130.00" height="124.30" fill="url(#ga1)" mask="url(#ramp)"/><rect x="28.90" y="11.30" width="130.00" height="124.30" fill="none" stroke="#222" stroke-width="0.6"/><text x="35.74" y="147.70" font-size="8.05" text-anchor="middle" >10</text><text x="58.54" y="147.70" font-size="8.05" text-anchor="middle" >11</text><text x="81.34" y="147.70" font-size="8.05" text-anchor="middle" >12</text><text x="104.14" y="147.70" font-size="8.05" text-anchor="middle" >13</text><text x="126.94" y="147.70" font-size="8.05" text-anchor="middle" >14</text><text x="149.74" y="147.70" font-size="8.05" text-anchor="middle" >15</text><text x="24.70" y="111.20" font-size="8.30" text-anchor="end" >2</text><text x="24.70" y="83.80" font-size="8.30" text-anchor="end" >4</text><text x="24.70" y="56.40" font-size="8.30" text-anchor="end" >6</text><text x="24.70" y="29.00" font-size="8.30" text-anchor="end" >8</text><path d="M35.74 135.60v2.2M47.14 135.60v1.3M58.54 135.60v2.2M69.94 135.60v1.3M81.34 135.60v2.2M92.74 135.60v1.3M104.14 135.60v2.2M115.54 135.60v1.3M126.94 135.60v2.2M138.34 135.60v1.3M149.74 135.60v2.2M28.90 121.90h-1.3M28.90 108.20h-2.2M28.90 94.50h-1.3M28.90 80.80h-2.2M28.90 67.10h-1.3M28.90 53.40h-2.2M28.90 39.70h-1.3M28.90 26.00h-2.2" stroke="#111" stroke-width="0.6" fill="none"/><text x="93.40" y="162.60" font-size="11.10" text-anchor="middle" >2θ (°)</text><text x="15.40" y="72.45" font-size="10.80" text-anchor="middle" transform="rotate(-90 15.40 72.45)" >time (h)</text><text x="92.90" y="5.70" font-size="8.25" text-anchor="middle" >MeTHF, 50 min 180 °C</text><text x="0.20" y="6.40" font-size="12.50" font-weight="bold" >a</text><text x="36.90" y="126.60" font-size="8.20" fill="#dcdcf8" >2D-precursor FAPbI<tspan dy="1.7" font-size="5.6">3</tspan></text><rect x="198.10" y="11.30" width="130.00" height="16.16" fill="url(#gc0)"/><rect x="198.10" y="11.30" width="130.00" height="16.16" fill="url(#gc1)" mask="url(#ramp)"/><rect x="198.10" y="25.96" width="130.00" height="28.91" fill="url(#gc1)"/><rect x="198.10" y="25.96" width="130.00" height="28.91" fill="url(#gc2)" mask="url(#ramp)"/><rect x="198.10" y="53.37" width="130.00" height="28.91" fill="url(#gc2)"/><rect x="198.10" y="53.37" width="130.00" height="28.91" fill="url(#gc3)" mask="url(#ramp)"/><rect x="198.10" y="80.78" width="130.00" height="28.91" fill="url(#gc3)"/><rect x="198.10" y="80.78" width="130.00" height="28.91" fill="url(#gc4)" mask="url(#ramp)"/><rect x="198.10" y="108.19" width="130.00" height="27.41" fill="url(#gc4)"/><rect x="198.10" y="108.19" width="130.00" height="27.41" fill="url(#gc5)" mask="url(#ramp)"/><rect x="198.10" y="11.30" width="130.00" height="124.30" filter="url(#hn)" opacity="0.13"/><rect x="198.10" y="11.30" width="130.00" height="124.30" fill="none" stroke="#222" stroke-width="0.6"/><text x="204.94" y="147.70" font-size="8.05" text-anchor="middle" >10</text><text x="227.74" y="147.70" font-size="8.05" text-anchor="middle" >11</text><text x="250.54" y="147.70" font-size="8.05" text-anchor="middle" >12</text><text x="273.34" y="147.70" font-size="8.05" text-anchor="middle" >13</text><text x="296.14" y="147.70" font-size="8.05" text-anchor="middle" >14</text><text x="318.94" y="147.70" font-size="8.05" text-anchor="middle" >15</text><text x="193.90" y="111.20" font-size="8.30" text-anchor="end" >2</text><text x="193.90" y="83.80" font-size="8.30" text-anchor="end" >4</text><text x="193.90" y="56.40" font-size="8.30" text-anchor="end" >6</text><text x="193.90" y="29.00" font-size="8.30" text-anchor="end" >8</text><path d="M204.94 135.60v2.2M216.34 135.60v1.3M227.74 135.60v2.2M239.14 135.60v1.3M250.54 135.60v2.2M261.94 135.60v1.3M273.34 135.60v2.2M284.74 135.60v1.3M296.14 135.60v2.2M307.54 135.60v1.3M318.94 135.60v2.2M198.10 121.90h-1.3M198.10 108.20h-2.2M198.10 94.50h-1.3M198.10 80.80h-2.2M198.10 67.10h-1.3M198.10 53.40h-2.2M198.10 39.70h-1.3M198.10 26.00h-2.2" stroke="#111" stroke-width="0.6" fill="none"/><text x="262.60" y="162.60" font-size="11.10" text-anchor="middle" >2θ (°)</text><text x="184.60" y="72.45" font-size="10.80" text-anchor="middle" transform="rotate(-90 184.60 72.45)" >time (h)</text><text x="262.10" y="5.70" font-size="8.25" text-anchor="middle" >4:1 DMF:DMSO, 10 min 150 °C</text><text x="182.30" y="6.40" font-size="12.50" font-weight="bold" >c</text><text x="207.60" y="126.60" font-size="8.20" fill="#dcdcf8" >FAPbI<tspan dy="1.7" font-size="5.6">3</tspan></text><rect x="367.90" y="11.30" width="130.00" height="124.30" fill="url(#ge0)"/><rect x="367.90" y="11.30" width="130.00" height="124.30" fill="url(#ge1)" mask="url(#ramp)"/><rect x="367.90" y="11.30" width="130.00" height="124.30" filter="url(#hn)" opacity="0.16"/><rect x="367.90" y="11.30" width="130.00" height="124.30" fill="none" stroke="#222" stroke-width="0.6"/><text x="374.74" y="147.70" font-size="8.05" text-anchor="middle" >10</text><text x="397.54" y="147.70" font-size="8.05" text-anchor="middle" >11</text><text x="420.34" y="147.70" font-size="8.05" text-anchor="middle" >12</text><text x="443.14" y="147.70" font-size="8.05" text-anchor="middle" >13</text><text x="465.94" y="147.70" font-size="8.05" text-anchor="middle" >14</text><text x="488.74" y="147.70" font-size="8.05" text-anchor="middle" >15</text><text x="363.70" y="111.20" font-size="8.30" text-anchor="end" >2</text><text x="363.70" y="83.80" font-size="8.30" text-anchor="end" >4</text><text x="363.70" y="56.40" font-size="8.30" text-anchor="end" >6</text><text x="363.70" y="29.00" font-size="8.30" text-anchor="end" >8</text><path d="M374.74 135.60v2.2M386.14 135.60v1.3M397.54 135.60v2.2M408.94 135.60v1.3M420.34 135.60v2.2M431.74 135.60v1.3M443.14 135.60v2.2M454.54 135.60v1.3M465.94 135.60v2.2M477.34 135.60v1.3M488.74 135.60v2.2M367.90 121.90h-1.3M367.90 108.20h-2.2M367.90 94.50h-1.3M367.90 80.80h-2.2M367.90 67.10h-1.3M367.90 53.40h-2.2M367.90 39.70h-1.3M367.90 26.00h-2.2" stroke="#111" stroke-width="0.6" fill="none"/><text x="432.40" y="162.60" font-size="11.10" text-anchor="middle" >2θ (°)</text><text x="354.40" y="72.45" font-size="10.80" text-anchor="middle" transform="rotate(-90 354.40 72.45)" >time (h)</text><text x="431.90" y="5.70" font-size="8.25" text-anchor="middle" >4:1 DMF:DMSO, 50 min 180 °C</text><text x="343.00" y="6.40" font-size="12.50" font-weight="bold" >e</text><text x="376.90" y="126.60" font-size="8.20" fill="#dcdcf8" >FAPbI<tspan dy="1.7" font-size="5.6">3</tspan></text><rect x="533.10" y="11.30" width="130.00" height="29.87" fill="url(#gg0)"/><rect x="533.10" y="11.30" width="130.00" height="29.87" fill="url(#gg1)" mask="url(#ramp)"/><rect x="533.10" y="39.67" width="130.00" height="28.91" fill="url(#gg1)"/><rect x="533.10" y="39.67" width="130.00" height="28.91" fill="url(#gg2)" mask="url(#ramp)"/><rect x="533.10" y="67.08" width="130.00" height="28.91" fill="url(#gg2)"/><rect x="533.10" y="67.08" width="130.00" height="28.91" fill="url(#gg3)" mask="url(#ramp)"/><rect x="533.10" y="94.49" width="130.00" height="34.39" fill="url(#gg3)"/><rect x="533.10" y="94.49" width="130.00" height="34.39" fill="url(#gg4)" mask="url(#ramp)"/><rect x="533.10" y="127.38" width="130.00" height="8.22" fill="url(#gg4)"/><rect x="533.10" y="127.38" width="130.00" height="8.22" fill="url(#gg5)" mask="url(#ramp)"/><rect x="533.10" y="11.30" width="130.00" height="124.30" fill="none" stroke="#222" stroke-width="0.6"/><text x="539.94" y="147.70" font-size="8.05" text-anchor="middle" >10</text><text x="562.74" y="147.70" font-size="8.05" text-anchor="middle" >11</text><text x="585.54" y="147.70" font-size="8.05" text-anchor="middle" >12</text><text x="608.34" y="147.70" font-size="8.05" text-anchor="middle" >13</text><text x="631.14" y="147.70" font-size="8.05" text-anchor="middle" >14</text><text x="653.94" y="147.70" font-size="8.05" text-anchor="middle" >15</text><text x="528.90" y="111.20" font-size="8.30" text-anchor="end" >2</text><text x="528.90" y="83.80" font-size="8.30" text-anchor="end" >4</text><text x="528.90" y="56.40" font-size="8.30" text-anchor="end" >6</text><text x="528.90" y="29.00" font-size="8.30" text-anchor="end" >8</text><path d="M539.94 135.60v2.2M551.34 135.60v1.3M562.74 135.60v2.2M574.14 135.60v1.3M585.54 135.60v2.2M596.94 135.60v1.3M608.34 135.60v2.2M619.74 135.60v1.3M631.14 135.60v2.2M642.54 135.60v1.3M653.94 135.60v2.2M533.10 121.90h-1.3M533.10 108.20h-2.2M533.10 94.50h-1.3M533.10 80.80h-2.2M533.10 67.10h-1.3M533.10 53.40h-2.2M533.10 39.70h-1.3M533.10 26.00h-2.2" stroke="#111" stroke-width="0.6" fill="none"/><text x="597.60" y="162.60" font-size="11.10" text-anchor="middle" >2θ (°)</text><text x="521.50" y="72.45" font-size="10.80" text-anchor="middle" transform="rotate(-90 521.50 72.45)" >time (h)</text><text x="598.70" y="5.70" font-size="8.25" text-anchor="middle" >ACN, 45 min 180 °C</text><text x="520.50" y="6.40" font-size="12.50" font-weight="bold" >g</text><text x="542.60" y="126.60" font-size="8.20" fill="#dcdcf8" >MAPbI<tspan dy="1.7" font-size="5.6">3</tspan></text><rect x="28.50" y="193.40" width="130.00" height="9.31" fill="url(#gb0)"/><rect x="28.50" y="193.40" width="130.00" height="9.31" fill="url(#gb1)" mask="url(#ramp)"/><rect x="28.50" y="201.21" width="130.00" height="15.20" fill="url(#gb1)"/><rect x="28.50" y="201.21" width="130.00" height="15.20" fill="url(#gb2)" mask="url(#ramp)"/><rect x="28.50" y="214.92" width="130.00" height="22.06" fill="url(#gb2)"/><rect x="28.50" y="214.92" width="130.00" height="22.06" fill="url(#gb3)" mask="url(#ramp)"/><rect x="28.50" y="235.47" width="130.00" height="15.20" fill="url(#gb3)"/><rect x="28.50" y="235.47" width="130.00" height="15.20" fill="url(#gb4)" mask="url(#ramp)"/><rect x="28.50" y="249.18" width="130.00" height="15.20" fill="url(#gb4)"/><rect x="28.50" y="249.18" width="130.00" height="15.20" fill="url(#gb5)" mask="url(#ramp)"/><rect x="28.50" y="262.88" width="130.00" height="28.91" fill="url(#gb5)"/><rect x="28.50" y="262.88" width="130.00" height="28.91" fill="url(#gb6)" mask="url(#ramp)"/><rect x="28.50" y="290.29" width="130.00" height="27.41" fill="url(#gb6)"/><rect x="28.50" y="290.29" width="130.00" height="27.41" fill="url(#gb7)" mask="url(#ramp)"/><rect x="28.50" y="193.40" width="130.00" height="124.30" filter="url(#hn)" opacity="0.18"/><rect x="28.50" y="193.40" width="130.00" height="124.30" fill="none" stroke="#222" stroke-width="0.6"/><text x="35.34" y="329.80" font-size="8.05" text-anchor="middle" >10</text><text x="58.14" y="329.80" font-size="8.05" text-anchor="middle" >11</text><text x="80.94" y="329.80" font-size="8.05" text-anchor="middle" >12</text><text x="103.74" y="329.80" font-size="8.05" text-anchor="middle" >13</text><text x="126.54" y="329.80" font-size="8.05" text-anchor="middle" >14</text><text x="149.34" y="329.80" font-size="8.05" text-anchor="middle" >15</text><text x="24.30" y="293.30" font-size="8.30" text-anchor="end" >2</text><text x="24.30" y="265.90" font-size="8.30" text-anchor="end" >4</text><text x="24.30" y="238.50" font-size="8.30" text-anchor="end" >6</text><text x="24.30" y="211.10" font-size="8.30" text-anchor="end" >8</text><path d="M35.34 317.70v2.2M46.74 317.70v1.3M58.14 317.70v2.2M69.54 317.70v1.3M80.94 317.70v2.2M92.34 317.70v1.3M103.74 317.70v2.2M115.14 317.70v1.3M126.54 317.70v2.2M137.94 317.70v1.3M149.34 317.70v2.2M28.50 304.00h-1.3M28.50 290.30h-2.2M28.50 276.60h-1.3M28.50 262.90h-2.2M28.50 249.20h-1.3M28.50 235.50h-2.2M28.50 221.80h-1.3M28.50 208.10h-2.2" stroke="#111" stroke-width="0.6" fill="none"/><text x="93.00" y="344.70" font-size="11.10" text-anchor="middle" >2θ (°)</text><text x="15.00" y="254.55" font-size="10.80" text-anchor="middle" transform="rotate(-90 15.00 254.55)" >time (h)</text><text x="92.50" y="188.60" font-size="8.25" text-anchor="middle" >4:1 DMF:DMSO, 45 min 100 °C</text><text x="3.80" y="189.70" font-size="12.50" font-weight="bold" >b</text><text x="41.00" y="308.70" font-size="8.20" fill="#dcdcf8" >MAPbI<tspan dy="1.7" font-size="5.6">3</tspan></text><rect x="197.40" y="193.40" width="130.00" height="23.02" fill="url(#gd0)"/><rect x="197.40" y="193.40" width="130.00" height="23.02" fill="url(#gd1)" mask="url(#ramp)"/><rect x="197.40" y="214.92" width="130.00" height="22.06" fill="url(#gd1)"/><rect x="197.40" y="214.92" width="130.00" height="22.06" fill="url(#gd2)" mask="url(#ramp)"/><rect x="197.40" y="235.47" width="130.00" height="15.20" fill="url(#gd2)"/><rect x="197.40" y="235.47" width="130.00" height="15.20" fill="url(#gd3)" mask="url(#ramp)"/><rect x="197.40" y="249.18" width="130.00" height="6.98" fill="url(#gd3)"/><rect x="197.40" y="249.18" width="130.00" height="6.98" fill="url(#gd4)" mask="url(#ramp)"/><rect x="197.40" y="254.66" width="130.00" height="9.72" fill="url(#gd4)"/><rect x="197.40" y="254.66" width="130.00" height="9.72" fill="url(#gd5)" mask="url(#ramp)"/><rect x="197.40" y="262.88" width="130.00" height="28.91" fill="url(#gd5)"/><rect x="197.40" y="262.88" width="130.00" height="28.91" fill="url(#gd6)" mask="url(#ramp)"/><rect x="197.40" y="290.29" width="130.00" height="27.41" fill="url(#gd6)"/><rect x="197.40" y="290.29" width="130.00" height="27.41" fill="url(#gd7)" mask="url(#ramp)"/><rect x="197.40" y="193.40" width="130.00" height="124.30" filter="url(#hn)" opacity="0.08"/><rect x="197.40" y="193.40" width="130.00" height="124.30" fill="none" stroke="#222" stroke-width="0.6"/><text x="204.24" y="329.80" font-size="8.05" text-anchor="middle" >10</text><text x="227.04" y="329.80" font-size="8.05" text-anchor="middle" >11</text><text x="249.84" y="329.80" font-size="8.05" text-anchor="middle" >12</text><text x="272.64" y="329.80" font-size="8.05" text-anchor="middle" >13</text><text x="295.44" y="329.80" font-size="8.05" text-anchor="middle" >14</text><text x="318.24" y="329.80" font-size="8.05" text-anchor="middle" >15</text><text x="193.20" y="293.30" font-size="8.30" text-anchor="end" >2</text><text x="193.20" y="265.90" font-size="8.30" text-anchor="end" >4</text><text x="193.20" y="238.50" font-size="8.30" text-anchor="end" >6</text><text x="193.20" y="211.10" font-size="8.30" text-anchor="end" >8</text><path d="M204.24 317.70v2.2M215.64 317.70v1.3M227.04 317.70v2.2M238.44 317.70v1.3M249.84 317.70v2.2M261.24 317.70v1.3M272.64 317.70v2.2M284.04 317.70v1.3M295.44 317.70v2.2M306.84 317.70v1.3M318.24 317.70v2.2M197.40 304.00h-1.3M197.40 290.30h-2.2M197.40 276.60h-1.3M197.40 262.90h-2.2M197.40 249.20h-1.3M197.40 235.50h-2.2M197.40 221.80h-1.3M197.40 208.10h-2.2" stroke="#111" stroke-width="0.6" fill="none"/><text x="261.90" y="344.70" font-size="11.10" text-anchor="middle" >2θ (°)</text><text x="183.90" y="254.55" font-size="10.80" text-anchor="middle" transform="rotate(-90 183.90 254.55)" >t me (h)</text><text x="261.40" y="188.60" font-size="8.25" text-anchor="middle" >4:1 DMF:DMSO, 15 min 100 °C</text><text x="180.80" y="189.70" font-size="12.50" font-weight="bold" >d</text><rect x="367.60" y="193.40" width="130.00" height="43.57" fill="url(#gf0)"/><rect x="367.60" y="193.40" width="130.00" height="43.57" fill="url(#gf1)" mask="url(#ramp)"/><rect x="367.60" y="235.47" width="130.00" height="22.06" fill="url(#gf1)"/><rect x="367.60" y="235.47" width="130.00" height="22.06" fill="url(#gf2)" mask="url(#ramp)"/><rect x="367.60" y="256.03" width="130.00" height="22.06" fill="url(#gf2)"/><rect x="367.60" y="256.03" width="130.00" height="22.06" fill="url(#gf3)" mask="url(#ramp)"/><rect x="367.60" y="276.59" width="130.00" height="41.11" fill="url(#gf3)"/><rect x="367.60" y="276.59" width="130.00" height="41.11" fill="url(#gf4)" mask="url(#ramp)"/><rect x="367.60" y="193.40" width="130.00" height="124.30" filter="url(#hn)" opacity="0.07"/><rect x="367.60" y="193.40" width="130.00" height="124.30" fill="none" stroke="#222" stroke-width="0.6"/><text x="374.44" y="329.80" font-size="8.05" text-anchor="middle" >10</text><text x="397.24" y="329.80" font-size="8.05" text-anchor="middle" >11</text><text x="420.04" y="329.80" font-size="8.05" text-anchor="middle" >12</text><text x="442.84" y="329.80" font-size="8.05" text-anchor="middle" >13</text><text x="465.64" y="329.80" font-size="8.05" text-anchor="middle" >14</text><text x="488.44" y="329.80" font-size="8.05" text-anchor="middle" >15</text><text x="363.40" y="293.30" font-size="8.30" text-anchor="end" >2</text><text x="363.40" y="265.90" font-size="8.30" text-anchor="end" >4</text><text x="363.40" y="238.50" font-size="8.30" text-anchor="end" >6</text><text x="363.40" y="211.10" font-size="8.30" text-anchor="end" >8</text><path d="M374.44 317.70v2.2M385.84 317.70v1.3M397.24 317.70v2.2M408.64 317.70v1.3M420.04 317.70v2.2M431.44 317.70v1.3M442.84 317.70v2.2M454.24 317.70v1.3M465.64 317.70v2.2M477.04 317.70v1.3M488.44 317.70v2.2M367.60 304.00h-1.3M367.60 290.30h-2.2M367.60 276.60h-1.3M367.60 262.90h-2.2M367.60 249.20h-1.3M367.60 235.50h-2.2M367.60 221.80h-1.3M367.60 208.10h-2.2" stroke="#111" stroke-width="0.6" fill="none"/><text x="432.10" y="344.70" font-size="11.10" text-anchor="middle" >2θ (°)</text><text x="354.10" y="254.55" font-size="10.80" text-anchor="middle" transform="rotate(-90 354.10 254.55)" >time (h)</text><text x="431.60" y="188.60" font-size="8.25" text-anchor="middle" >4:1 DMF:DMSO, 50 min 180 °C</text><text x="351.30" y="189.70" font-size="12.50" font-weight="bold" >f</text><text x="255.80" y="18.40" font-size="5.30" text-anchor="end" fill="#e8e8ff" >PbI<tspan dy="1.2" font-size="3.6">2</tspan></text><path d="M256.70 16.50l1.6 -1v0.55h2.2v0.9h-2.2v0.55z" fill="#fff"/><text x="282.80" y="18.40" font-size="5.30" text-anchor="end" fill="#e8e8ff" >(100)</text><path d="M283.70 16.50l1.6 -1v0.55h2.2v0.9h-2.2v0.55z" fill="#fff"/><text x="425.50" y="18.60" font-size="5.30" text-anchor="end" fill="#e8e8ff" >PbI<tspan dy="1.2" font-size="3.6">2</tspan></text><path d="M426.40 16.70l1.6 -1v0.55h2.2v0.9h-2.2v0.55z" fill="#fff"/><text x="479.30" y="18.60" font-size="5.30" fill="#e8e8ff" >(100)</text><path d="M474.30 16.70l1.6 -1v0.55h2.2v0.9h-2.2v0.55z" fill="#fff"/><text x="594.40" y="18.40" font-size="5.30" text-anchor="end" fill="#e8e8ff" >PbI<tspan dy="1.2" font-size="3.6">2</tspan></text><path d="M595.30 16.50l1.6 -1v0.55h2.2v0.9h-2.2v0.55z" fill="#fff"/><text x="621.50" y="18.40" font-size="5.30" text-anchor="end" fill="#e8e8ff" >(100)</text><path d="M622.40 16.50l1.6 -1v0.55h2.2v0.9h-2.2v0.55z" fill="#fff"/><text x="84.50" y="200.00" font-size="5.30" text-anchor="end" fill="#e8e8ff" >PbI<tspan dy="1.2" font-size="3.6">2</tspan></text><path d="M85.40 198.10l1.6 -1v0.55h2.2v0.9h-2.2v0.55z" fill="#fff"/><text x="112.70" y="200.00" font-size="5.30" text-anchor="end" fill="#e8e8ff" >(100)</text><path d="M113.60 198.10l1.6 -1v0.55h2.2v0.9h-2.2v0.55z" fill="#fff"/><text x="256.40" y="200.30" font-size="5.30" text-anchor="end" fill="#e8e8ff" >PbI<tspan dy="1.2" font-size="3.6">2</tspan></text><path d="M257.30 198.40l1.6 -1v0.55h2.2v0.9h-2.2v0.55z" fill="#fff"/><text x="286.00" y="200.30" font-size="5.30" text-anchor="end" fill="#e8e8ff" >(100)</text><path d="M286.90 198.40l1.6 -1v0.55h2.2v0.9h-2.2v0.55z" fill="#fff"/><text x="423.80" y="200.80" font-size="5.30" text-anchor="end" fill="#e8e8ff" >PbI<tspan dy="1.2" font-size="3.6">2</tspan></text><path d="M424.70 198.90l1.6 -1v0.55h2.2v0.9h-2.2v0.55z" fill="#fff"/><text x="455.30" y="200.80" font-size="5.30" text-anchor="end" fill="#e8e8ff" >(100)</text><path d="M456.20 198.90l1.6 -1v0.55h2.2v0.9h-2.2v0.55z" fill="#fff"/><text x="317.60" y="296.30" font-size="7.70" transform="rotate(-90 317.60 296.30)" fill="#dcdcf8" >FA<tspan dy="1.5" font-size="4.9">0.83</tspan><tspan dy="-1.5">Cs</tspan><tspan dy="1.5" font-size="4.9">0.17</tspan><tspan dy="-1.5">Pb(I</tspan><tspan dy="1.5" font-size="4.9">0.9</tspan><tspan dy="-1.5">Br</tspan><tspan dy="1.5" font-size="4.9">0.1</tspan><tspan dy="-1.5">)</tspan><tspan dy="1.5" font-size="4.9">3</tspan></text><text x="490.00" y="297.50" font-size="7.90" transform="rotate(-90 490.00 297.50)" fill="#dcdcf8" >FA<tspan dy="1.5" font-size="4.9">0.83</tspan><tspan dy="-1.5">Cs</tspan><tspan dy="1.5" font-size="4.9">0.17</tspan><tspan dy="-1.5">Pb(I</tspan><tspan dy="1.5" font-size="4.9">0.9</tspan><tspan dy="-1.5">Br</tspan><tspan dy="1.5" font-size="4.9">0.1</tspan><tspan dy="-1.5">)</tspan><tspan dy="1.5" font-size="4.9">3</tspan></text><path d="M212.90 27.30L219.71 31.23M222.69 36.38L222.69 44.25M220.99 37.33L220.99 43.31M222.69 44.25L215.87 48.18M209.93 48.18L203.11 44.25M209.96 46.24L204.78 43.25M203.11 44.25L203.11 36.38M206.09 31.23L212.90 27.30M207.75 32.23L212.93 29.24" stroke="#dcdcf8" stroke-width="0.75" fill="none" stroke-linecap="round"/><text x="222.69" y="35.33" font-size="6.60" text-anchor="middle" fill="#dcdcf8">N</text><text x="212.90" y="52.28" font-size="6.60" text-anchor="middle" fill="#dcdcf8">N</text><text x="203.11" y="35.33" font-size="6.60" text-anchor="middle" fill="#dcdcf8">N</text><path d="M213.75 68.37L213.75 63.83M212.05 68.37L212.05 63.83M209.82 73.31L203.50 76.40M215.98 73.31L222.30 76.40" stroke="#dcdcf8" stroke-width="0.75" fill="none" stroke-linecap="round"/><text x="212.90" y="74.18" font-size="6.60" text-anchor="middle" fill="#dcdcf8">S</text><text x="212.90" y="62.78" font-size="6.60" text-anchor="middle" fill="#dcdcf8">O</text><path d="M384.40 27.20L391.13 31.08M394.10 36.23L394.10 44.00M392.40 37.16L392.40 43.07M394.10 44.00L387.37 47.88M381.43 47.88L374.70 44.00M381.47 45.95L376.36 42.99M374.70 44.00L374.70 36.23M377.67 31.08L384.40 27.20M379.33 32.09L384.44 29.14" stroke="#dcdcf8" stroke-width="0.75" fill="none" stroke-linecap="round"/><text x="394.10" y="35.18" font-size="6.60" text-anchor="middle" fill="#dcdcf8">N</text><text x="384.40" y="51.98" font-size="6.60" text-anchor="middle" fill="#dcdcf8">N</text><text x="374.70" y="35.18" font-size="6.60" text-anchor="middle" fill="#dcdcf8">N</text><path d="M384.40 208.40L391.13 212.28M394.10 217.43L394.10 225.20M392.40 218.36L392.40 224.27M394.10 225.20L387.37 229.08M381.43 229.08L374.70 225.20M381.47 227.15L376.36 224.19M374.70 225.20L374.70 217.43M377.67 212.28L384.40 208.40M379.33 213.29L384.44 210.34" stroke="#dcdcf8" stroke-width="0.75" fill="none" stroke-linecap="round"/><text x="394.10" y="216.38" font-size="6.60" text-anchor="middle" fill="#dcdcf8">N</text><text x="384.40" y="233.18" font-size="6.60" text-anchor="middle" fill="#dcdcf8">N</text><text x="374.70" y="216.38" font-size="6.60" text-anchor="middle" fill="#dcdcf8">N</text><path d="M46.75 207.97L46.75 203.43M45.05 207.97L45.05 203.43M42.94 213.13L36.30 217.00M48.86 213.13L55.50 217.00" stroke="#dcdcf8" stroke-width="0.75" fill="none" stroke-linecap="round"/><text x="45.90" y="213.78" font-size="6.60" text-anchor="middle" fill="#dcdcf8">S</text><text x="45.90" y="202.38" font-size="6.60" text-anchor="middle" fill="#dcdcf8">O</text><path d="M212.90 197.40L219.71 201.33M222.69 206.48L222.69 214.35M220.99 207.43L220.99 213.41M222.69 214.35L215.87 218.28M209.93 218.28L203.11 214.35M209.96 216.34L204.78 213.35M203.11 214.35L203.11 206.48M206.09 201.33L212.90 197.40M207.75 202.33L212.93 199.34" stroke="#dcdcf8" stroke-width="0.75" fill="none" stroke-linecap="round"/><text x="222.69" y="205.43" font-size="6.60" text-anchor="middle" fill="#dcdcf8">N</text><text x="212.90" y="222.38" font-size="6.60" text-anchor="middle" fill="#dcdcf8">N</text><text x="203.11" y="205.43" font-size="6.60" text-anchor="middle" fill="#dcdcf8">N</text><path d="M214.25 237.47L214.25 232.93M212.55 237.47L212.55 232.93M210.44 242.64L204.20 246.30M216.36 242.64L222.60 246.30" stroke="#dcdcf8" stroke-width="0.75" fill="none" stroke-linecap="round"/><text x="213.40" y="243.28" font-size="6.60" text-anchor="middle" fill="#dcdcf8">S</text><text x="213.40" y="231.88" font-size="6.60" text-anchor="middle" fill="#dcdcf8">O</text><path d="M204.60 262.30L204.60 255.73M202.90 262.30L202.90 255.73M204.60 262.30L211.51 267.77M217.11 268.08L223.50 264.10M214.20 273.33L214.20 279.90" stroke="#dcdcf8" stroke-width="0.75" fill="none" stroke-linecap="round"/><text x="204.60" y="254.68" font-size="6.60" text-anchor="middle" fill="#dcdcf8">O</text><text x="214.20" y="272.28" font-size="6.60" text-anchor="middle" fill="#dcdcf8">N</text><path d="M213.60 288.00L223.30 293.60M213.86 290.23L221.24 294.49M223.30 293.60L223.30 304.80M223.30 304.80L213.60 310.40M221.24 303.91L213.86 308.17M213.60 310.40L203.90 304.80M203.90 304.80L203.90 293.60M205.70 303.46L205.70 294.94M203.90 293.60L213.60 288.00M223.30 293.60L230.07 289.71M236.13 289.49L243.46 293.04" stroke="#dcdcf8" stroke-width="0.75" fill="none" stroke-linecap="round"/><text x="233.04" y="290.38" font-size="6.60" text-anchor="middle" fill="#dcdcf8">O</text><path d="M35.10 368.20L46.20 362.50M46.20 362.50L54.39 371.53M54.77 377.38L49.50 385.00M49.50 385.00L35.10 381.00M35.10 381.00L35.10 368.20M46.20 362.50L52.60 349.10" stroke="#111" stroke-width="0.80" fill="none" stroke-linecap="round"/><text x="56.90" y="376.89" font-size="7.20" text-anchor="middle" fill="#111">O</text><text x="64.70" y="372.60" font-size="8.13" >2-methyltetrahydrofuran</text><path d="M169.50 346.10L182.30 353.80M182.30 353.80L182.30 368.50M182.30 368.50L194.80 375.80M194.80 375.80L194.80 385.30" stroke="#111" stroke-width="0.80" fill="none" stroke-linecap="round"/><text x="191.90" y="392.20" font-size="7.20" >OH</text><text x="203.40" y="371.90" font-size="8.13" ><tspan font-style="italic">n</tspan>-butanol</text><path d="M280.00 356.10L289.06 361.33M292.30 366.94L292.30 377.40M290.30 368.20L290.30 376.15M292.30 377.40L283.24 382.63M276.76 382.63L267.70 377.40M276.67 380.27L269.79 376.30M267.70 377.40L267.70 366.94M270.94 361.33L280.00 356.10M273.03 362.43L279.91 358.46" stroke="#111" stroke-width="0.80" fill="none" stroke-linecap="round"/><text x="292.30" y="365.79" font-size="7.20" text-anchor="middle" fill="#111">N</text><text x="280.00" y="387.09" font-size="7.20" text-anchor="middle" fill="#111">N</text><text x="267.70" y="365.79" font-size="7.20" text-anchor="middle" fill="#111">N</text><text x="300.60" y="371.90" font-size="8.13" ><tspan font-style="italic">sym</tspan>-triazine</text><path d="M381.90 371.66L381.90 364.14M379.90 371.66L379.90 364.14M377.75 377.42L368.90 383.10M384.05 377.42L392.90 383.10" stroke="#111" stroke-width="0.80" fill="none" stroke-linecap="round"/><text x="380.90" y="377.99" font-size="7.20" text-anchor="middle" fill="#111">S</text><text x="380.90" y="362.99" font-size="7.20" text-anchor="middle" fill="#111">O</text><text x="395.40" y="372.40" font-size="8.13" >dimethylsulfoxide</text><path d="M478.80 367.50L478.80 356.24M476.80 367.50L476.80 356.24M478.80 367.50L487.41 372.21M493.94 372.12L502.90 366.90M490.70 377.74L490.70 389.40" stroke="#111" stroke-width="0.80" fill="none" stroke-linecap="round"/><text x="478.80" y="355.09" font-size="7.20" text-anchor="middle" fill="#111">O</text><text x="490.70" y="376.59" font-size="7.20" text-anchor="middle" fill="#111">N</text><text x="509.30" y="372.40" font-size="8.13" ><tspan font-style="italic">N,N</tspan>-dimethylformamide</text><path d="M627.80 368.50L639.49 375.25M628.05 371.30L636.94 376.43M639.49 375.25L639.49 388.75M639.49 388.75L627.80 395.50M636.94 387.57L628.05 392.70M627.80 395.50L616.11 388.75M616.11 388.75L616.11 375.25M618.41 387.13L618.41 376.87M616.11 375.25L627.80 368.50M627.80 368.50L627.80 356.84M631.08 351.29L640.70 346.00" stroke="#111" stroke-width="0.80" fill="none" stroke-linecap="round"/><text x="627.80" y="355.69" font-size="7.20" text-anchor="middle" fill="#111">O</text><text x="646.40" y="372.40" font-size="8.13" >anisole</text><polygon points="573.3,282.8 590.6,265.0 594.0,281.5 573.8,307.8" fill="#b9b9b2" /><polygon points="517.5,278.2 523.5,270.5 578.0,275.0 590.6,265.0 573.3,282.8" fill="#d6d6d0" /><polygon points="517.5,278.2 573.3,282.8 573.8,307.8 512.2,300.6" fill="#dcdcd6" /><path d="M517.5 278.6L573.3 283.2L590.6 265.4" stroke="#f2f2ee" stroke-width="0.8" fill="none"/><polygon points="517.6,283.6 569.6,288.2 570.2,303.9 516.0,297.4" fill="#363a80" /><path d="M517.6 283.2L569.6 287.8" stroke="#8d90c4" stroke-width="0.7"/><ellipse cx="527.6" cy="290.8" rx="8.6" ry="3.6" fill="#e9e9f0" transform="rotate(8 527.6 290.8)"/><ellipse cx="533.0" cy="296.6" rx="7" ry="2" fill="#c9cae2" opacity="0.8" transform="rotate(14 533.0 296.6)"/><rect x="524.0" y="290.6" width="7" height="1.6" fill="#5a5e9c" transform="rotate(6 524.0 290.6)"/><rect x="540.0" y="289.6" width="9" height="1.2" fill="#9da0cc" transform="rotate(8 540.0 289.6)"/><circle cx="559.7" cy="295.3" r="4.6" fill="#23264f"/><circle cx="559.4" cy="294.6" r="3.6" fill="#c5c9c9" stroke="#8e9292" stroke-width="0.5"/><circle cx="559.6" cy="294.9" r="5.2" fill="none" stroke="#dfe0ee" stroke-width="0.7" stroke-dasharray="0.8 1.2"/><circle cx="554.9" cy="287.8" r="1" fill="#7a1010"/><polygon points="576.0,264.5 591.1,249.5 592.0,255.0 576.0,272.0" fill="#5c6046" /><polygon points="574.6,266.4 589.0,252.5 590.5,258.0 575.0,275.6" fill="#7b7f64" /><polygon points="519.5,263.8 574.6,266.4 575.0,275.8 522.0,271.2" fill="#ececec" /><polygon points="521.0,269.0 574.8,273.0 575.0,275.8 522.0,271.2" fill="#cfcfcf" /><polygon points="522.0,271.2 575.0,275.8 575.0,277.4 523.5,273.0" fill="#9a9a94" /><polygon points="517.7,261.3 576.0,264.0 576.0,265.6 518.2,263.2" fill="#77776f" /><polygon points="576.0,243.5 591.1,225.7 591.1,249.8 576.0,264.5" fill="#3e3e3e" /><polygon points="517.7,239.4 576.0,243.5 576.0,264.5 517.7,261.8" fill="url(#hL1)" /><polygon points="517.7,239.4 533.3,221.4 591.1,225.7 576.0,243.5" fill="url(#hL2)" /><polygon points="647.5,288.4 664.8,270.6 668.2,287.1 648.0,313.4" fill="#b9b9b2" /><polygon points="591.7,283.8 597.7,276.1 652.2,280.6 664.8,270.6 647.5,288.4" fill="#d6d6d0" /><polygon points="591.7,283.8 647.5,288.4 648.0,313.4 586.4,306.2" fill="#dcdcd6" /><path d="M591.7 284.2L647.5 288.8L664.8 271.0" stroke="#f2f2ee" stroke-width="0.8" fill="none"/><polygon points="591.8,289.2 643.8,293.8 644.4,309.5 590.2,303.0" fill="#363a80" /><path d="M591.8 288.8L643.8 293.4" stroke="#8d90c4" stroke-width="0.7"/><ellipse cx="601.8" cy="296.4" rx="8.6" ry="3.6" fill="#e9e9f0" transform="rotate(8 601.8 296.4)"/><ellipse cx="607.2" cy="302.2" rx="7" ry="2" fill="#c9cae2" opacity="0.8" transform="rotate(14 607.2 302.2)"/><rect x="598.2" y="296.2" width="7" height="1.6" fill="#5a5e9c" transform="rotate(6 598.2 296.2)"/><rect x="614.2" y="295.2" width="9" height="1.2" fill="#9da0cc" transform="rotate(8 614.2 295.2)"/><circle cx="633.9" cy="300.9" r="4.6" fill="#23264f"/><circle cx="633.6" cy="300.2" r="3.6" fill="#c5c9c9" stroke="#8e9292" stroke-width="0.5"/><circle cx="633.8" cy="300.5" r="5.2" fill="none" stroke="#dfe0ee" stroke-width="0.7" stroke-dasharray="0.8 1.2"/><circle cx="629.1" cy="293.4" r="1" fill="#7a1010"/><polygon points="650.2,270.1 665.3,255.1 666.2,260.6 650.2,277.6" fill="#5c6046" /><polygon points="648.8,272.0 663.2,258.1 664.7,263.6 649.2,281.2" fill="#7b7f64" /><polygon points="593.7,269.4 648.8,272.0 649.2,281.4 596.2,276.8" fill="#ececec" /><polygon points="595.2,274.6 649.0,278.6 649.2,281.4 596.2,276.8" fill="#cfcfcf" /><polygon points="596.2,276.8 649.2,281.4 649.2,283.0 597.7,278.6" fill="#9a9a94" /><polygon points="591.9,266.9 650.2,269.6 650.2,271.2 592.4,268.8" fill="#77776f" /><rect x="667.6" y="262" width="2.2" height="5.2" fill="#111" transform="rotate(-10 668 264)"/><polygon points="650.7,249.2 665.6,232.0 665.6,254.1 650.7,270.4" fill="#f8b600" /><polygon points="593.0,244.1 650.7,249.2 650.7,270.4 593.0,266.1" fill="url(#hR1)" /><polygon points="593.0,244.1 608.4,227.3 665.6,232.0 650.7,249.2" fill="url(#hR2)" /><text x="553.9" y="234.0" font-size="6.9" fill="#f4f4f4" text-anchor="middle" transform="rotate(5 553.9 231.5)">solvent release</text><text x="628.8" y="241.2" font-size="6.9" fill="#f4f4f4" text-anchor="middle" transform="rotate(5 628.8 238.7)">solvent retention</text><path d="M602.70 258.63L603.10 251.23M601.70 258.57L602.10 251.17M602.20 258.60L597.50 261.20M602.20 258.60L607.30 262.00" stroke="#b8b8b8" stroke-width="0.50" fill="none" stroke-linecap="round"/><path d="M611.70 254.64L612.10 249.44M610.70 254.56L611.10 249.36M611.20 254.60L616.50 259.30M616.50 259.30L622.50 256.50M616.50 259.30L616.20 265.20" stroke="#b8b8b8" stroke-width="0.50" fill="none" stroke-linecap="round"/><path d="M631.14 255.02L636.22 258.58M631.12 256.35L634.98 259.05M636.22 258.58L635.68 264.76M635.68 264.76L630.06 267.38M634.54 264.07L630.27 266.07M630.06 267.38L624.98 263.82M624.98 263.82L625.52 257.64M626.14 263.17L626.55 258.48M625.52 257.64L631.14 255.02M636.22 258.58L642.40 253.20M642.40 253.20L648.00 257.00" stroke="#b8b8b8" stroke-width="0.50" fill="none" stroke-linecap="round"/><path d="M536.8 225.0C536.4 217 533.5 210.5 530.6 206.2" stroke="#5a5a5a" stroke-width="2.6" fill="none"/><polygon points="527.2,202.6 533.9,204.8 528.6,209.0" fill="#5a5a5a" /><path d="M579.4 228.0C580.0 221 583.0 214.5 586.0 211.0" stroke="#5a5a5a" stroke-width="2.6" fill="none"/><polygon points="589.2,207.4 588.8,214.4 582.8,210.2" fill="#5a5a5a" /><path d="M654.3 234.0C655.0 227 657.5 221.0 660.2 217.4" stroke="#5a5a5a" stroke-width="2.6" fill="none"/><polygon points="663.4,213.6 663.2,220.6 657.0,216.6" fill="#5a5a5a" /><path d="M554.7 224.9L555.6 215" stroke="#8c8c8c" stroke-width="0.9" stroke-dasharray="1.2 1" fill="none"/><polygon points="555.9,210.2 557.8,215.4 553.6,215.0" fill="#8c8c8c" /><path d="M629.5 231.9L630.4 222" stroke="#8c8c8c" stroke-width="0.9" stroke-dasharray="1.2 1" fill="none"/><polygon points="630.7,217.2 632.6,222.4 628.4,222.0" fill="#8c8c8c" /><g font-weight="bold" font-size="6.85" text-anchor="middle"><text x="557.6" y="198.2" fill="#0a9a55" transform="rotate(8 557.6 195.8)">thermally</text><text x="556.5" y="205.9" fill="#0a9a55" transform="rotate(8 556.5 203.4)">stable</text><text x="632.2" y="203.8" fill="#c01a0e" transform="rotate(8 632.2 201.4)">thermally</text><text x="631.4" y="212.6" fill="#c01a0e" transform="rotate(8 631.4 210.1)">unstable</text></g><g font-weight="bold" font-size="6.9" text-anchor="middle" fill="#111"><text x="540.5" y="313.2" transform="rotate(6 540.5 310.7)">volatile solvent</text><text x="539.4" y="322.1" transform="rotate(6 539.4 319.6)">processing</text><text x="614.2" y="318.9" transform="rotate(6 614.2 316.4)">non-volatile</text><text x="613.5" y="328.4" transform="rotate(6 613.5 325.9)">solvent processing</text></g><path d="M517.00 197.00L520.77 194.95M523.61 195.64L526.30 199.60M526.30 199.60L522.50 205.60M522.50 205.60L516.40 203.60M516.40 203.60L517.00 197.00M526.30 199.60L533.20 201.40" stroke="#333" stroke-width="0.55" fill="none" stroke-linecap="round"/><text x="522.50" y="195.37" font-size="3.80" text-anchor="middle" fill="#333">o</text><path d="M583.50 205.40L588.00 202.00M588.00 202.00L593.50 206.60M593.50 206.60L598.80 203.20M598.80 203.20L605.20 207.60" stroke="#333" stroke-width="0.55" fill="none" stroke-linecap="round"/><text x="579.60" y="206.37" font-size="3.80" text-anchor="middle" fill="#333">HO</text><path d="M669.40 200.90L673.07 203.02M674.60 205.67L674.60 209.90M673.70 206.18L673.70 209.39M674.60 209.90L670.93 212.02M667.87 212.02L664.20 209.90M667.88 210.98L665.09 209.37M664.20 209.90L664.20 205.67M665.73 203.02L669.40 200.90M666.62 203.54L669.41 201.93" stroke="#444" stroke-width="0.50" fill="none" stroke-linecap="round"/><text x="674.60" y="205.12" font-size="3.40" text-anchor="middle" fill="#444">N</text><text x="669.40" y="214.12" font-size="3.40" text-anchor="middle" fill="#444">N</text><text x="664.20" y="205.12" font-size="3.40" text-anchor="middle" fill="#444">N</text><text x="507.6" y="189.9" font-size="12.5" font-weight="bold">h</text><rect x="13.80" y="405.00" width="138.90" height="138.60" fill="#c82806"/><rect x="13.80" y="405.00" width="138.90" height="138.60" filter="url(#tsm)" opacity="0.35"/><rect x="13.80" y="405.00" width="138.90" height="138.60" filter="url(#tsl)" opacity="0.25"/><text x="2.50" y="420.60" font-size="12.5" font-weight="bold">i</text><text x="27.10" y="422.10" font-size="9.40" font-weight="bold" fill="#fff">After 3,600</text><text x="27.10" y="433.50" font-size="9.40" font-weight="bold" fill="#fff">hours ISOS-L-2</text><rect x="113.50" y="412.10" width="35.6" height="5.5" fill="#fff"/><text x="131.30" y="428.40" font-size="9.40" font-weight="bold" fill="#fff" text-anchor="middle">2 mm</text><text x="21.30" y="536.90" font-size="9.50" font-weight="bold" fill="#fff">2D-precursor FAPbI<tspan dy="1.8" font-size="6.6">3</tspan></text><rect x="172.10" y="405.00" width="137.80" height="138.60" fill="#d9551a"/><rect x="172.10" y="405.00" width="137.80" height="138.60" filter="url(#tj)"/><text x="161.00" y="420.60" font-size="12.5" font-weight="bold">j</text><text x="184.70" y="422.10" font-size="9.40" font-weight="bold" fill="#fff">After 3,600</text><text x="184.70" y="433.50" font-size="9.40" font-weight="bold" fill="#fff">hours ISOS-L-2</text><rect x="271.10" y="412.10" width="35.6" height="5.5" fill="#fff"/><text x="288.90" y="428.40" font-size="9.40" font-weight="bold" fill="#fff" text-anchor="middle">2 mm</text><text x="178.70" y="536.60" font-size="9.45" font-weight="bold" fill="#fff">(FA<tspan dy="1.8" font-size="6.6">0.83</tspan><tspan dy="-1.8">Cs</tspan><tspan dy="1.8" font-size="6.6">0.17</tspan><tspan dy="-1.8"> )Pb(I</tspan><tspan dy="1.8" font-size="6.6">0.9</tspan><tspan dy="-1.8">Br</tspan><tspan dy="1.8" font-size="6.6">0.1</tspan><tspan dy="-1.8">)</tspan><tspan dy="1.8" font-size="6.6">3</tspan></text><rect x="13.80" y="578.30" width="138.90" height="138.60" fill="#c32a0a"/><rect x="13.80" y="578.30" width="138.90" height="138.60" filter="url(#tsm)" opacity="0.35"/><rect x="13.80" y="578.30" width="138.90" height="138.60" filter="url(#tsl)" opacity="0.25"/><text x="2.50" y="593.90" font-size="12.5" font-weight="bold">k</text><text x="27.10" y="595.40" font-size="9.40" font-weight="bold" fill="#fff">After 3,000</text><text x="27.10" y="606.80" font-size="9.40" font-weight="bold" fill="#fff">hours ISOS-D-3</text><rect x="113.50" y="585.40" width="35.6" height="5.5" fill="#fff"/><text x="131.30" y="601.70" font-size="9.40" font-weight="bold" fill="#fff" text-anchor="middle">2 mm</text><text x="21.30" y="710.20" font-size="9.50" font-weight="bold" fill="#fff">2D-precursor FAPbI<tspan dy="1.8" font-size="6.6">3</tspan></text><rect x="171.60" y="578.30" width="138.60" height="138.60" fill="#cc6228"/><rect x="171.60" y="578.30" width="138.60" height="138.60" filter="url(#tl)"/><text x="161.60" y="593.90" font-size="12.5" font-weight="bold">l</text><text x="184.20" y="595.40" font-size="9.40" font-weight="bold" fill="#fff">After 3,000</text><text x="184.20" y="606.80" font-size="9.40" font-weight="bold" fill="#fff">hours ISOS-D-3</text><rect x="270.60" y="585.40" width="35.6" height="5.5" fill="#fff"/><text x="288.40" y="601.70" font-size="9.40" font-weight="bold" fill="#fff" text-anchor="middle">2 mm</text><text x="178.20" y="709.90" font-size="9.45" font-weight="bold" fill="#fff">(FA<tspan dy="1.8" font-size="6.6">0.83</tspan><tspan dy="-1.8">Cs</tspan><tspan dy="1.8" font-size="6.6">0.17</tspan><tspan dy="-1.8"> )Pb(I</tspan><tspan dy="1.8" font-size="6.6">0.9</tspan><tspan dy="-1.8">Br</tspan><tspan dy="1.8" font-size="6.6">0.1</tspan><tspan dy="-1.8">)</tspan><tspan dy="1.8" font-size="6.6">3</tspan></text><polygon points="360.0,415.2 385.2,439.6 407.3,468.4 462.5,481.5 508.3,493.4 539.8,504.0 593.5,505.9 664.5,511.6 664.5,531.6 593.5,529.7 539.8,531.6 508.3,531.6 462.5,530.9 407.3,498.4 385.2,492.2 360.0,432.1" fill="#faf4cb" opacity="1"/><polygon points="360.0,421.5 385.2,463.4 407.3,475.9 462.5,500.9 508.3,505.3 539.8,507.8 593.5,510.9 664.5,514.1 664.5,526.6 593.5,522.8 539.8,522.2 508.3,522.2 462.5,520.9 407.3,489.7 385.2,475.9 360.0,428.4" fill="#fce0cc" opacity="1"/><polygon points="360.0,436.5 385.2,439.6 407.3,439.6 462.5,445.2 508.3,447.7 539.8,450.9 593.5,455.3 664.5,464.0 664.5,489.0 593.5,477.8 539.8,470.3 508.3,464.0 462.5,460.3 407.3,450.9 385.2,449.0 360.0,450.3" fill="#bdf6fd" opacity="0.85"/><polygon points="360.0,440.9 385.2,442.1 407.3,442.1 462.5,449.6 508.3,453.4 539.8,457.1 593.5,462.1 664.5,471.5 664.5,484.0 593.5,473.4 539.8,467.1 508.3,461.5 462.5,457.8 407.3,447.7 385.2,447.1 360.0,447.1" fill="#c6e0fa" opacity="0.9"/><path d="M355.1 448.4H669.6" stroke="#f47a7a" stroke-width="0.7" stroke-dasharray="1.6 1.6"/><path d="M355.1 464.0H669.6" stroke="#7f8ef5" stroke-width="0.7" stroke-dasharray="1.2 1.8"/><polyline points="360.0,424.6 385.2,470.9 407.3,485.3 462.5,512.8 508.3,512.8 539.8,512.2 593.5,515.3 664.5,520.3" fill="none" stroke="#f26060" stroke-width="0.80"/><polyline points="360.0,444.6 385.2,444.6 407.3,444.6 462.5,454.6 508.3,459.0 539.8,462.8 593.5,469.0 664.5,478.4" fill="none" stroke="#5b6ef2" stroke-width="0.80"/><polyline points="360.0,439.6 385.2,447.7 407.3,444.6 462.5,449.6 508.3,448.4 539.8,451.5 593.5,457.8 664.5,464.6" fill="none" stroke="#111" stroke-width="0.85"/><polygon points="360.00,413.85 361.84,417.09 358.16,417.09" fill="none" stroke="#f26060" stroke-width="0.70"/><polygon points="360.00,418.23 361.84,421.47 358.16,421.47" fill="none" stroke="#f26060" stroke-width="0.70"/><polygon points="360.00,421.36 361.84,424.60 358.16,424.60" fill="none" stroke="#f26060" stroke-width="0.70"/><polygon points="360.00,423.23 361.84,426.47 358.16,426.47" fill="none" stroke="#f26060" stroke-width="0.70"/><polygon points="360.00,426.36 361.84,429.60 358.16,429.60" fill="none" stroke="#f26060" stroke-width="0.70"/><polygon points="360.00,429.49 361.84,432.73 358.16,432.73" fill="none" stroke="#f26060" stroke-width="0.70"/><polygon points="385.24,438.24 387.08,441.48 383.40,441.48" fill="none" stroke="#f26060" stroke-width="0.70"/><polygon points="385.24,457.01 387.08,460.25 383.40,460.25" fill="none" stroke="#f26060" stroke-width="0.70"/><polygon points="385.24,472.02 387.08,475.26 383.40,475.26" fill="none" stroke="#f26060" stroke-width="0.70"/><polygon points="385.24,489.53 387.08,492.77 383.40,492.77" fill="none" stroke="#f26060" stroke-width="0.70"/><polygon points="407.32,467.02 409.16,470.26 405.49,470.26" fill="none" stroke="#f26060" stroke-width="0.70"/><polygon points="407.32,473.27 409.16,476.51 405.49,476.51" fill="none" stroke="#f26060" stroke-width="0.70"/><polygon points="407.32,485.16 409.16,488.40 405.49,488.40" fill="none" stroke="#f26060" stroke-width="0.70"/><polygon points="407.32,490.79 409.16,494.03 405.49,494.03" fill="none" stroke="#f26060" stroke-width="0.70"/><polygon points="407.32,495.79 409.16,499.03 405.49,499.03" fill="none" stroke="#f26060" stroke-width="0.70"/><polygon points="462.54,480.15 464.38,483.39 460.70,483.39" fill="none" stroke="#f26060" stroke-width="0.70"/><polygon points="462.54,497.04 464.38,500.28 460.70,500.28" fill="none" stroke="#f26060" stroke-width="0.70"/><polygon points="462.54,502.04 464.38,505.28 460.70,505.28" fill="none" stroke="#f26060" stroke-width="0.70"/><polygon points="462.54,517.06 464.38,520.30 460.70,520.30" fill="none" stroke="#f26060" stroke-width="0.70"/><polygon points="462.54,521.44 464.38,524.68 460.70,524.68" fill="none" stroke="#f26060" stroke-width="0.70"/><polygon points="462.54,528.32 464.38,531.56 460.70,531.56" fill="none" stroke="#f26060" stroke-width="0.70"/><polygon points="508.28,492.04 510.12,495.28 506.44,495.28" fill="none" stroke="#f26060" stroke-width="0.70"/><polygon points="508.28,499.54 510.12,502.78 506.44,502.78" fill="none" stroke="#f26060" stroke-width="0.70"/><polygon points="508.28,505.80 510.12,509.04 506.44,509.04" fill="none" stroke="#f26060" stroke-width="0.70"/><polygon points="508.28,520.18 510.12,523.42 506.44,523.42" fill="none" stroke="#f26060" stroke-width="0.70"/><polygon points="508.28,523.31 510.12,526.55 506.44,526.55" fill="none" stroke="#f26060" stroke-width="0.70"/><polygon points="508.28,528.94 510.12,532.18 506.44,532.18" fill="none" stroke="#f26060" stroke-width="0.70"/><polygon points="539.84,502.67 541.68,505.91 538.00,505.91" fill="none" stroke="#f26060" stroke-width="0.70"/><polygon points="539.84,504.55 541.68,507.79 538.00,507.79" fill="none" stroke="#f26060" stroke-width="0.70"/><polygon points="539.84,507.67 541.68,510.91 538.00,510.91" fill="none" stroke="#f26060" stroke-width="0.70"/><polygon points="539.84,518.93 541.68,522.17 538.00,522.17" fill="none" stroke="#f26060" stroke-width="0.70"/><polygon points="539.84,523.31 541.68,526.55 538.00,526.55" fill="none" stroke="#f26060" stroke-width="0.70"/><polygon points="539.84,528.94 541.68,532.18 538.00,532.18" fill="none" stroke="#f26060" stroke-width="0.70"/><polygon points="593.47,504.55 595.31,507.79 591.63,507.79" fill="none" stroke="#f26060" stroke-width="0.70"/><polygon points="593.47,508.93 595.31,512.17 591.63,512.17" fill="none" stroke="#f26060" stroke-width="0.70"/><polygon points="593.47,510.80 595.31,514.04 591.63,514.04" fill="none" stroke="#f26060" stroke-width="0.70"/><polygon points="593.47,515.18 595.31,518.42 591.63,518.42" fill="none" stroke="#f26060" stroke-width="0.70"/><polygon points="593.47,518.93 595.31,522.17 591.63,522.17" fill="none" stroke="#f26060" stroke-width="0.70"/><polygon points="593.47,523.31 595.31,526.55 591.63,526.55" fill="none" stroke="#f26060" stroke-width="0.70"/><polygon points="593.47,527.06 595.31,530.30 591.63,530.30" fill="none" stroke="#f26060" stroke-width="0.70"/><polygon points="664.46,510.18 666.30,513.42 662.62,513.42" fill="none" stroke="#f26060" stroke-width="0.70"/><polygon points="664.46,511.43 666.30,514.67 662.62,514.67" fill="none" stroke="#f26060" stroke-width="0.70"/><polygon points="664.46,523.94 666.30,527.18 662.62,527.18" fill="none" stroke="#f26060" stroke-width="0.70"/><polygon points="664.46,525.81 666.30,529.05 662.62,529.05" fill="none" stroke="#f26060" stroke-width="0.70"/><polygon points="664.46,528.94 666.30,532.18 662.62,532.18" fill="none" stroke="#f26060" stroke-width="0.70"/><circle cx="360.00" cy="437.12" r="1.50" fill="none" stroke="#5b6ef2" stroke-width="0.60"/><circle cx="360.00" cy="449.63" r="1.50" fill="none" stroke="#5b6ef2" stroke-width="0.60"/><circle cx="385.24" cy="440.24" r="1.50" fill="none" stroke="#5b6ef2" stroke-width="0.60"/><circle cx="385.24" cy="442.75" r="1.50" fill="none" stroke="#5b6ef2" stroke-width="0.60"/><circle cx="385.24" cy="448.38" r="1.50" fill="none" stroke="#5b6ef2" stroke-width="0.60"/><circle cx="407.32" cy="440.24" r="1.50" fill="none" stroke="#5b6ef2" stroke-width="0.60"/><circle cx="407.32" cy="441.49" r="1.50" fill="none" stroke="#5b6ef2" stroke-width="0.60"/><circle cx="407.32" cy="450.25" r="1.50" fill="none" stroke="#5b6ef2" stroke-width="0.60"/><circle cx="462.54" cy="445.87" r="1.50" fill="none" stroke="#5b6ef2" stroke-width="0.60"/><circle cx="462.54" cy="451.50" r="1.50" fill="none" stroke="#5b6ef2" stroke-width="0.60"/><circle cx="462.54" cy="456.51" r="1.50" fill="none" stroke="#5b6ef2" stroke-width="0.60"/><circle cx="462.54" cy="459.63" r="1.50" fill="none" stroke="#5b6ef2" stroke-width="0.60"/><circle cx="508.28" cy="448.38" r="1.50" fill="none" stroke="#5b6ef2" stroke-width="0.60"/><circle cx="508.28" cy="451.50" r="1.50" fill="none" stroke="#5b6ef2" stroke-width="0.60"/><circle cx="508.28" cy="459.63" r="1.50" fill="none" stroke="#5b6ef2" stroke-width="0.60"/><circle cx="508.28" cy="463.39" r="1.50" fill="none" stroke="#5b6ef2" stroke-width="0.60"/><circle cx="539.84" cy="453.38" r="1.50" fill="none" stroke="#5b6ef2" stroke-width="0.60"/><circle cx="539.84" cy="460.89" r="1.50" fill="none" stroke="#5b6ef2" stroke-width="0.60"/><circle cx="539.84" cy="469.64" r="1.50" fill="none" stroke="#5b6ef2" stroke-width="0.60"/><circle cx="593.47" cy="455.88" r="1.50" fill="none" stroke="#5b6ef2" stroke-width="0.60"/><circle cx="593.47" cy="460.89" r="1.50" fill="none" stroke="#5b6ef2" stroke-width="0.60"/><circle cx="593.47" cy="474.02" r="1.50" fill="none" stroke="#5b6ef2" stroke-width="0.60"/><circle cx="593.47" cy="477.15" r="1.50" fill="none" stroke="#5b6ef2" stroke-width="0.60"/><circle cx="664.46" cy="467.14" r="1.50" fill="none" stroke="#5b6ef2" stroke-width="0.60"/><circle cx="664.46" cy="470.89" r="1.50" fill="none" stroke="#5b6ef2" stroke-width="0.60"/><circle cx="664.46" cy="485.91" r="1.50" fill="none" stroke="#5b6ef2" stroke-width="0.60"/><circle cx="664.46" cy="488.41" r="1.50" fill="none" stroke="#5b6ef2" stroke-width="0.60"/><polygon points="360.00,421.81 362.58,426.34 357.42,426.34" fill="#f26060" stroke="#f26060" stroke-width="0.70"/><polygon points="385.24,468.09 387.82,472.63 382.66,472.63" fill="#f26060" stroke="#f26060" stroke-width="0.70"/><polygon points="407.32,482.48 409.90,487.02 404.75,487.02" fill="#f26060" stroke="#f26060" stroke-width="0.70"/><polygon points="462.54,510.00 465.11,514.54 459.96,514.54" fill="#f26060" stroke="#f26060" stroke-width="0.70"/><polygon points="508.28,510.00 510.86,514.54 505.71,514.54" fill="#f26060" stroke="#f26060" stroke-width="0.70"/><polygon points="539.84,509.38 542.41,513.91 537.26,513.91" fill="#f26060" stroke="#f26060" stroke-width="0.70"/><polygon points="593.47,512.50 596.05,517.04 590.89,517.04" fill="#f26060" stroke="#f26060" stroke-width="0.70"/><polygon points="664.46,517.51 667.03,522.04 661.88,522.04" fill="#f26060" stroke="#f26060" stroke-width="0.70"/><rect x="358.20" y="442.82" width="3.60" height="3.60" fill="#5b6ef2" stroke="none" stroke-width="0.60"/><rect x="383.44" y="442.82" width="3.60" height="3.60" fill="#5b6ef2" stroke="none" stroke-width="0.60"/><rect x="405.52" y="442.82" width="3.60" height="3.60" fill="#5b6ef2" stroke="none" stroke-width="0.60"/><rect x="460.74" y="452.83" width="3.60" height="3.60" fill="#5b6ef2" stroke="none" stroke-width="0.60"/><rect x="506.48" y="457.21" width="3.60" height="3.60" fill="#5b6ef2" stroke="none" stroke-width="0.60"/><rect x="538.04" y="460.96" width="3.60" height="3.60" fill="#5b6ef2" stroke="none" stroke-width="0.60"/><rect x="591.67" y="467.22" width="3.60" height="3.60" fill="#5b6ef2" stroke="none" stroke-width="0.60"/><rect x="662.66" y="476.60" width="3.60" height="3.60" fill="#5b6ef2" stroke="none" stroke-width="0.60"/><polygon points="360.00,436.72 360.72,438.63 362.76,438.72 361.16,439.99 361.70,441.96 360.00,440.84 358.30,441.96 358.84,439.99 357.24,438.72 359.28,438.63" fill="#111"/><polygon points="385.24,444.85 385.96,446.76 388.00,446.85 386.40,448.13 386.94,450.10 385.24,448.97 383.54,450.10 384.08,448.13 382.48,446.85 384.52,446.76" fill="#111"/><polygon points="407.32,441.72 408.04,443.64 410.08,443.73 408.48,445.00 409.03,446.97 407.32,445.84 405.62,446.97 406.17,445.00 404.57,443.73 406.61,443.64" fill="#111"/><polygon points="462.54,446.73 463.25,448.64 465.30,448.73 463.70,450.00 464.24,451.97 462.54,450.84 460.83,451.97 461.38,450.00 459.78,448.73 461.82,448.64" fill="#111"/><polygon points="508.28,445.48 509.00,447.39 511.04,447.48 509.44,448.75 509.99,450.72 508.28,449.59 506.58,450.72 507.13,448.75 505.53,447.48 507.57,447.39" fill="#111"/><polygon points="539.84,448.60 540.55,450.52 542.59,450.61 540.99,451.88 541.54,453.85 539.84,452.72 538.13,453.85 538.68,451.88 537.08,450.61 539.12,450.52" fill="#111"/><polygon points="593.47,454.86 594.19,456.77 596.23,456.86 594.63,458.13 595.17,460.10 593.47,458.98 591.77,460.10 592.31,458.13 590.71,456.86 592.75,456.77" fill="#111"/><polygon points="664.46,461.74 665.17,463.65 667.22,463.74 665.62,465.01 666.16,466.98 664.46,465.86 662.75,466.98 663.30,465.01 661.70,463.74 663.74,463.65" fill="#111"/><rect x="355.10" y="405.00" width="314.50" height="137.20" fill="none" stroke="#333" stroke-width="0.75"/><path d="M360.00 542.20v2.4M391.55 542.20v2.4M423.10 542.20v2.4M454.65 542.20v2.4M486.20 542.20v2.4M517.75 542.20v2.4M549.30 542.20v2.4M580.85 542.20v2.4M612.40 542.20v2.4M643.95 542.20v2.4M375.77 542.20v1.4M407.32 542.20v1.4M438.88 542.20v1.4M470.43 542.20v1.4M501.98 542.20v1.4M533.52 542.20v1.4M565.08 542.20v1.4M596.62 542.20v1.4M628.17 542.20v1.4M659.73 542.20v1.4M355.10 542.20h-2.4M355.10 510.93h-2.4M355.10 479.65h-2.4M355.10 448.38h-2.4M355.10 417.10h-2.4M355.10 526.56h-1.4M355.10 495.29h-1.4M355.10 464.01h-1.4M355.10 432.74h-1.4" stroke="#222" stroke-width="0.7" fill="none"/><text x="360.00" y="555.20" font-size="8.20" text-anchor="middle">0</text><text x="391.55" y="555.20" font-size="8.20" text-anchor="middle">100</text><text x="423.10" y="555.20" font-size="8.20" text-anchor="middle">200</text><text x="454.65" y="555.20" font-size="8.20" text-anchor="middle">300</text><text x="486.20" y="555.20" font-size="8.20" text-anchor="middle">400</text><text x="517.75" y="555.20" font-size="8.20" text-anchor="middle">500</text><text x="549.30" y="555.20" font-size="8.20" text-anchor="middle">600</text><text x="580.85" y="555.20" font-size="8.20" text-anchor="middle">700</text><text x="612.40" y="555.20" font-size="8.20" text-anchor="middle">800</text><text x="643.95" y="555.20" font-size="8.20" text-anchor="middle">900</text><text x="352.50" y="545.80" font-size="8.20" text-anchor="end">0</text><text x="352.50" y="514.53" font-size="8.20" text-anchor="end">5</text><text x="352.50" y="483.25" font-size="8.20" text-anchor="end">10</text><text x="352.50" y="451.98" font-size="8.20" text-anchor="end">15</text><text x="352.50" y="420.70" font-size="8.20" text-anchor="end">20</text><text x="512.30" y="566.00" font-size="8.75" text-anchor="middle">Aging time (hours)</text><text x="337.80" y="473.50" font-size="10.20" text-anchor="middle" transform="rotate(-90 337.80 473.50)">η<tspan dy="1.9" font-size="6.4">mpp</tspan><tspan dy="-1.9"> (%)</tspan></text><text x="325.40" y="420.70" font-size="13.60" font-weight="bold">m</text><text x="448.80" y="419.80" font-size="8.15" text-anchor="middle">85 °C, 1 sun equivalent (V<tspan dy="1.6" font-size="5.4">oc</tspan><tspan dy="-1.6">)</tspan></text><text x="448.80" y="430.20" font-size="8.15" text-anchor="middle">encapsulated (ISOS-L-2)</text><text x="671.60" y="450.60" font-size="9.60" fill="#f26a6a">t<tspan dy="1.8" font-size="6">80</tspan></text><text x="671.60" y="466.40" font-size="9.60" fill="#6a7cf2">t<tspan dy="1.8" font-size="6">80</tspan></text><path d="M514.9 412.7h4.6M525.1 412.7h4.6" stroke="#5b6ef2" stroke-width="0.8"/><rect x="520.30" y="410.70" width="4.00" height="4.00" fill="#5b6ef2" stroke="none" stroke-width="0.60"/><text x="533.80" y="414.60" font-size="6.45">2D-precursor FAPbI<tspan dy="1.3" font-size="4.4">3</tspan><tspan dy="-1.3"> </tspan>median,</text><circle cx="632.90" cy="412.50" r="1.90" fill="none" stroke="#5b6ef2" stroke-width="0.80"/><text x="641.00" y="414.60" font-size="6.45">0.25 cm<tspan dy="-2.2" font-size="4.4">2</tspan></text><path d="M514.9 422.1h14.8" stroke="#111" stroke-width="0.8"/><polygon points="522.30,419.00 523.04,420.98 525.15,421.07 523.50,422.39 524.06,424.43 522.30,423.26 520.54,424.43 521.10,422.39 519.45,421.07 521.56,420.98" fill="#111"/><text x="533.80" y="424.10" font-size="6.45">2D-precursor FAPbI<tspan dy="1.3" font-size="4.4">3</tspan><tspan dy="-1.3"> </tspan>champion</text><path d="M514.9 431.6h4.6M525.1 431.6h4.6" stroke="#f26060" stroke-width="0.8"/><polygon points="522.30,429.00 524.88,433.54 519.72,433.54" fill="#f26060" stroke="#f26060" stroke-width="0.70"/><text x="533.80" y="433.60" font-size="6.45">FACs median,</text><polygon points="581.00,429.20 583.39,433.41 578.61,433.41" fill="none" stroke="#f26060" stroke-width="0.70"/><text x="589.10" y="433.60" font-size="6.45">0.25 cm<tspan dy="-2.2" font-size="4.4">2</tspan></text><rect x="361.7" y="515.7" width="12.1" height="9.2" fill="#c3faff"/><rect x="361.7" y="524.9" width="12.1" height="9.8" fill="#c8e4fa"/><rect x="384.6" y="515.7" width="12.1" height="9.2" fill="#faf4cb"/><rect x="384.6" y="524.9" width="12.1" height="9.8" fill="#fce0cc"/><text x="379.10" y="523.30" font-size="6.40" text-anchor="middle">&amp;</text><text x="379.10" y="532.50" font-size="6.40" text-anchor="middle">&amp;</text><text x="401.50" y="523.60" font-size="6.40">Range</text><text x="401.50" y="532.60" font-size="6.40">Interquartile range</text><polygon points="359.4,589.2 390.2,586.7 413.1,596.1 454.2,597.3 481.8,596.1 531.6,597.3 591.7,597.3 624.8,598.0 664.3,598.0 664.3,629.9 624.8,628.7 591.7,631.2 531.6,625.5 481.8,614.9 454.2,616.8 413.1,607.4 390.2,611.1 359.4,601.1" fill="#faf4cb" opacity="1"/><polygon points="359.4,591.7 390.2,590.4 413.1,598.0 454.2,604.2 481.8,604.2 531.6,605.5 591.7,605.5 624.8,605.5 664.3,606.7 664.3,624.3 624.8,620.5 591.7,620.5 531.6,619.3 481.8,611.7 454.2,613.0 413.1,604.2 390.2,600.5 359.4,596.7" fill="#fce0cc" opacity="1"/><polygon points="359.4,614.3 390.2,613.6 413.1,613.6 454.2,611.7 481.8,611.1 531.6,611.1 591.7,609.9 624.8,611.1 664.3,609.2 664.3,619.3 624.8,619.9 591.7,620.5 531.6,620.5 481.8,621.8 454.2,623.0 413.1,623.7 390.2,631.8 359.4,631.8" fill="#bdf6fd" opacity="0.85"/><polygon points="359.4,619.3 390.2,616.8 413.1,615.5 454.2,613.6 481.8,613.0 531.6,613.0 591.7,612.4 624.8,613.0 664.3,611.1 664.3,616.1 624.8,617.4 591.7,617.4 531.6,617.4 481.8,618.0 454.2,618.6 413.1,620.5 390.2,625.5 359.4,626.8" fill="#c6e0fa" opacity="0.9"/><path d="M354.6 600.5H670.1" stroke="#f47a7a" stroke-width="0.7" stroke-dasharray="1.6 1.6"/><path d="M354.6 627.1H670.1" stroke="#7f8ef5" stroke-width="0.7" stroke-dasharray="1.2 1.8"/><polyline points="359.4,593.6 390.2,593.6 413.1,600.5 454.2,609.2 481.8,607.4 531.6,613.6 591.7,614.3 624.8,614.9 664.3,618.6" fill="none" stroke="#f26060" stroke-width="0.80"/><polyline points="359.4,623.7 390.2,620.5 413.1,617.7 454.2,614.9 481.8,614.9 531.6,614.9 591.7,614.9 624.8,614.9 664.3,613.0" fill="none" stroke="#5b6ef2" stroke-width="0.80"/><polyline points="359.4,624.9 390.2,615.5 413.1,615.5 454.2,614.3 481.8,621.8 531.6,612.4 591.7,610.5 624.8,612.4 664.3,608.0" fill="none" stroke="#111" stroke-width="0.85"/><polygon points="359.40,587.09 361.33,590.50 357.47,590.50" fill="none" stroke="#f26060" stroke-width="0.70"/><polygon points="359.40,590.23 361.33,593.63 357.47,593.63" fill="none" stroke="#f26060" stroke-width="0.70"/><polygon points="359.40,592.73 361.33,596.13 357.47,596.13" fill="none" stroke="#f26060" stroke-width="0.70"/><polygon points="359.40,597.74 361.33,601.15 357.47,601.15" fill="none" stroke="#f26060" stroke-width="0.70"/><polygon points="390.21,588.97 392.14,592.38 388.28,592.38" fill="none" stroke="#f26060" stroke-width="0.70"/><polygon points="390.21,591.48 392.14,594.88 388.28,594.88" fill="none" stroke="#f26060" stroke-width="0.70"/><polygon points="390.21,601.50 392.14,604.91 388.28,604.91" fill="none" stroke="#f26060" stroke-width="0.70"/><polygon points="413.12,593.99 415.05,597.39 411.19,597.39" fill="none" stroke="#f26060" stroke-width="0.70"/><polygon points="413.12,596.49 415.05,599.89 411.19,599.89" fill="none" stroke="#f26060" stroke-width="0.70"/><polygon points="413.12,600.88 415.05,604.28 411.19,604.28" fill="none" stroke="#f26060" stroke-width="0.70"/><polygon points="413.12,605.26 415.05,608.66 411.19,608.66" fill="none" stroke="#f26060" stroke-width="0.70"/><polygon points="454.20,595.24 456.13,598.64 452.27,598.64" fill="none" stroke="#f26060" stroke-width="0.70"/><polygon points="454.20,602.76 456.13,606.16 452.27,606.16" fill="none" stroke="#f26060" stroke-width="0.70"/><polygon points="481.85,593.99 483.78,597.39 479.92,597.39" fill="none" stroke="#f26060" stroke-width="0.70"/><polygon points="481.85,608.39 483.78,611.80 479.92,611.80" fill="none" stroke="#f26060" stroke-width="0.70"/><polygon points="531.62,595.24 533.55,598.64 529.69,598.64" fill="none" stroke="#f26060" stroke-width="0.70"/><polygon points="531.62,623.43 533.55,626.83 529.69,626.83" fill="none" stroke="#f26060" stroke-width="0.70"/><polygon points="591.66,595.24 593.59,598.64 589.73,598.64" fill="none" stroke="#f26060" stroke-width="0.70"/><polygon points="591.66,597.12 593.59,600.52 589.73,600.52" fill="none" stroke="#f26060" stroke-width="0.70"/><polygon points="591.66,628.76 593.59,632.16 589.73,632.16" fill="none" stroke="#f26060" stroke-width="0.70"/><polygon points="624.84,595.87 626.77,599.27 622.91,599.27" fill="none" stroke="#f26060" stroke-width="0.70"/><polygon points="624.84,597.74 626.77,601.15 622.91,601.15" fill="none" stroke="#f26060" stroke-width="0.70"/><polygon points="624.84,626.56 626.77,629.97 622.91,629.97" fill="none" stroke="#f26060" stroke-width="0.70"/><polygon points="664.34,595.87 666.27,599.27 662.41,599.27" fill="none" stroke="#f26060" stroke-width="0.70"/><polygon points="664.34,618.42 666.27,621.82 662.41,621.82" fill="none" stroke="#f26060" stroke-width="0.70"/><polygon points="664.34,627.82 666.27,631.22 662.41,631.22" fill="none" stroke="#f26060" stroke-width="0.70"/><polygon points="359.40,594.81 361.30,596.71 359.40,598.61 357.50,596.71" fill="none" stroke="#f26060" stroke-width="0.60"/><polygon points="390.21,584.79 392.11,586.69 390.21,588.59 388.31,586.69" fill="none" stroke="#f26060" stroke-width="0.60"/><polygon points="390.21,593.56 392.11,595.46 390.21,597.36 388.31,595.46" fill="none" stroke="#f26060" stroke-width="0.60"/><polygon points="390.21,609.22 392.11,611.12 390.21,613.02 388.31,611.12" fill="none" stroke="#f26060" stroke-width="0.60"/><polygon points="413.12,598.57 415.02,600.47 413.12,602.37 411.22,600.47" fill="none" stroke="#f26060" stroke-width="0.60"/><polygon points="454.20,602.33 456.10,604.23 454.20,606.13 452.30,604.23" fill="none" stroke="#f26060" stroke-width="0.60"/><polygon points="454.20,612.35 456.10,614.25 454.20,616.15 452.30,614.25" fill="none" stroke="#f26060" stroke-width="0.60"/><polygon points="481.85,602.33 483.75,604.23 481.85,606.13 479.95,604.23" fill="none" stroke="#f26060" stroke-width="0.60"/><polygon points="531.62,604.84 533.52,606.74 531.62,608.64 529.72,606.74" fill="none" stroke="#f26060" stroke-width="0.60"/><polygon points="591.66,604.21 593.56,606.11 591.66,608.01 589.76,606.11" fill="none" stroke="#f26060" stroke-width="0.60"/><polygon points="591.66,619.25 593.56,621.15 591.66,623.05 589.76,621.15" fill="none" stroke="#f26060" stroke-width="0.60"/><polygon points="624.84,604.21 626.74,606.11 624.84,608.01 622.94,606.11" fill="none" stroke="#f26060" stroke-width="0.60"/><polygon points="624.84,619.25 626.74,621.15 624.84,623.05 622.94,621.15" fill="none" stroke="#f26060" stroke-width="0.60"/><polygon points="664.34,617.99 666.24,619.89 664.34,621.79 662.44,619.89" fill="none" stroke="#f26060" stroke-width="0.60"/><polygon points="664.34,624.26 666.24,626.16 664.34,628.06 662.44,626.16" fill="none" stroke="#f26060" stroke-width="0.60"/><rect x="358.10" y="612.95" width="2.60" height="2.60" fill="none" stroke="#5b6ef2" stroke-width="0.60"/><rect x="358.10" y="619.22" width="2.60" height="2.60" fill="none" stroke="#5b6ef2" stroke-width="0.60"/><rect x="358.10" y="630.50" width="2.60" height="2.60" fill="none" stroke="#5b6ef2" stroke-width="0.60"/><rect x="388.91" y="617.97" width="2.60" height="2.60" fill="none" stroke="#5b6ef2" stroke-width="0.60"/><rect x="388.91" y="621.73" width="2.60" height="2.60" fill="none" stroke="#5b6ef2" stroke-width="0.60"/><rect x="388.91" y="630.50" width="2.60" height="2.60" fill="none" stroke="#5b6ef2" stroke-width="0.60"/><rect x="411.82" y="614.83" width="2.60" height="2.60" fill="none" stroke="#5b6ef2" stroke-width="0.60"/><rect x="411.82" y="617.97" width="2.60" height="2.60" fill="none" stroke="#5b6ef2" stroke-width="0.60"/><rect x="452.90" y="612.33" width="2.60" height="2.60" fill="none" stroke="#5b6ef2" stroke-width="0.60"/><rect x="452.90" y="615.46" width="2.60" height="2.60" fill="none" stroke="#5b6ef2" stroke-width="0.60"/><rect x="480.55" y="610.45" width="2.60" height="2.60" fill="none" stroke="#5b6ef2" stroke-width="0.60"/><rect x="480.55" y="612.33" width="2.60" height="2.60" fill="none" stroke="#5b6ef2" stroke-width="0.60"/><rect x="480.55" y="616.09" width="2.60" height="2.60" fill="none" stroke="#5b6ef2" stroke-width="0.60"/><rect x="480.55" y="617.97" width="2.60" height="2.60" fill="none" stroke="#5b6ef2" stroke-width="0.60"/><rect x="530.32" y="612.33" width="2.60" height="2.60" fill="none" stroke="#5b6ef2" stroke-width="0.60"/><rect x="530.32" y="615.46" width="2.60" height="2.60" fill="none" stroke="#5b6ef2" stroke-width="0.60"/><rect x="590.36" y="611.70" width="2.60" height="2.60" fill="none" stroke="#5b6ef2" stroke-width="0.60"/><rect x="590.36" y="614.83" width="2.60" height="2.60" fill="none" stroke="#5b6ef2" stroke-width="0.60"/><rect x="590.36" y="616.71" width="2.60" height="2.60" fill="none" stroke="#5b6ef2" stroke-width="0.60"/><rect x="623.54" y="612.33" width="2.60" height="2.60" fill="none" stroke="#5b6ef2" stroke-width="0.60"/><rect x="623.54" y="615.46" width="2.60" height="2.60" fill="none" stroke="#5b6ef2" stroke-width="0.60"/><rect x="663.04" y="609.82" width="2.60" height="2.60" fill="none" stroke="#5b6ef2" stroke-width="0.60"/><rect x="663.04" y="612.95" width="2.60" height="2.60" fill="none" stroke="#5b6ef2" stroke-width="0.60"/><rect x="663.04" y="614.83" width="2.60" height="2.60" fill="none" stroke="#5b6ef2" stroke-width="0.60"/><circle cx="359.40" cy="623.02" r="1.40" fill="none" stroke="#5b6ef2" stroke-width="0.60"/><circle cx="359.40" cy="626.16" r="1.40" fill="none" stroke="#5b6ef2" stroke-width="0.60"/><circle cx="390.21" cy="624.28" r="1.40" fill="none" stroke="#5b6ef2" stroke-width="0.60"/><circle cx="390.21" cy="626.78" r="1.40" fill="none" stroke="#5b6ef2" stroke-width="0.60"/><circle cx="413.12" cy="621.15" r="1.40" fill="none" stroke="#5b6ef2" stroke-width="0.60"/><circle cx="413.12" cy="623.65" r="1.40" fill="none" stroke="#5b6ef2" stroke-width="0.60"/><circle cx="454.20" cy="619.27" r="1.40" fill="none" stroke="#5b6ef2" stroke-width="0.60"/><circle cx="454.20" cy="623.02" r="1.40" fill="none" stroke="#5b6ef2" stroke-width="0.60"/><circle cx="481.85" cy="620.52" r="1.40" fill="none" stroke="#5b6ef2" stroke-width="0.60"/><circle cx="531.62" cy="618.01" r="1.40" fill="none" stroke="#5b6ef2" stroke-width="0.60"/><circle cx="531.62" cy="620.21" r="1.40" fill="none" stroke="#5b6ef2" stroke-width="0.60"/><circle cx="591.66" cy="619.27" r="1.40" fill="none" stroke="#5b6ef2" stroke-width="0.60"/><circle cx="624.84" cy="618.64" r="1.40" fill="none" stroke="#5b6ef2" stroke-width="0.60"/><circle cx="664.34" cy="617.39" r="1.40" fill="none" stroke="#5b6ef2" stroke-width="0.60"/><polygon points="359.40,590.98 361.79,595.19 357.01,595.19" fill="#f26060" stroke="#f26060" stroke-width="0.70"/><polygon points="390.21,590.98 392.60,595.19 387.82,595.19" fill="#f26060" stroke="#f26060" stroke-width="0.70"/><polygon points="413.12,597.87 415.51,602.08 410.73,602.08" fill="#f26060" stroke="#f26060" stroke-width="0.70"/><polygon points="454.20,606.64 456.59,610.85 451.81,610.85" fill="#f26060" stroke="#f26060" stroke-width="0.70"/><polygon points="481.85,604.76 484.24,608.97 479.46,608.97" fill="#f26060" stroke="#f26060" stroke-width="0.70"/><polygon points="531.62,611.03 534.01,615.24 529.23,615.24" fill="#f26060" stroke="#f26060" stroke-width="0.70"/><polygon points="591.66,611.65 594.05,615.87 589.27,615.87" fill="#f26060" stroke="#f26060" stroke-width="0.70"/><polygon points="624.84,612.28 627.23,616.49 622.45,616.49" fill="#f26060" stroke="#f26060" stroke-width="0.70"/><polygon points="664.34,616.04 666.73,620.25 661.95,620.25" fill="#f26060" stroke="#f26060" stroke-width="0.70"/><rect x="357.70" y="621.95" width="3.40" height="3.40" fill="#5b6ef2" stroke="none" stroke-width="0.60"/><rect x="388.51" y="618.82" width="3.40" height="3.40" fill="#5b6ef2" stroke="none" stroke-width="0.60"/><rect x="411.42" y="616.00" width="3.40" height="3.40" fill="#5b6ef2" stroke="none" stroke-width="0.60"/><rect x="452.50" y="613.18" width="3.40" height="3.40" fill="#5b6ef2" stroke="none" stroke-width="0.60"/><rect x="480.15" y="613.18" width="3.40" height="3.40" fill="#5b6ef2" stroke="none" stroke-width="0.60"/><rect x="529.92" y="613.18" width="3.40" height="3.40" fill="#5b6ef2" stroke="none" stroke-width="0.60"/><rect x="589.96" y="613.18" width="3.40" height="3.40" fill="#5b6ef2" stroke="none" stroke-width="0.60"/><rect x="623.14" y="613.18" width="3.40" height="3.40" fill="#5b6ef2" stroke="none" stroke-width="0.60"/><rect x="662.64" y="611.30" width="3.40" height="3.40" fill="#5b6ef2" stroke="none" stroke-width="0.60"/><polygon points="359.40,622.00 360.12,623.92 362.16,624.01 360.56,625.28 361.10,627.25 359.40,626.12 357.70,627.25 358.24,625.28 356.64,624.01 358.68,623.92" fill="#111"/><polygon points="390.21,612.61 390.93,614.52 392.97,614.61 391.37,615.88 391.91,617.85 390.21,616.73 388.51,617.85 389.05,615.88 387.45,614.61 389.49,614.52" fill="#111"/><polygon points="413.12,612.61 413.84,614.52 415.88,614.61 414.28,615.88 414.82,617.85 413.12,616.73 411.42,617.85 411.96,615.88 410.36,614.61 412.40,614.52" fill="#111"/><polygon points="454.20,611.35 454.92,613.27 456.96,613.36 455.36,614.63 455.90,616.60 454.20,615.47 452.50,616.60 453.04,614.63 451.44,613.36 453.48,613.27" fill="#111"/><polygon points="481.85,618.87 482.57,620.79 484.61,620.88 483.01,622.15 483.55,624.12 481.85,622.99 480.15,624.12 480.69,622.15 479.09,620.88 481.13,620.79" fill="#111"/><polygon points="531.62,609.47 532.34,611.39 534.38,611.48 532.78,612.75 533.32,614.72 531.62,613.59 529.92,614.72 530.46,612.75 528.86,611.48 530.90,611.39" fill="#111"/><polygon points="591.66,607.60 592.38,609.51 594.42,609.60 592.82,610.87 593.36,612.84 591.66,611.71 589.96,612.84 590.50,610.87 588.90,609.60 590.94,609.51" fill="#111"/><polygon points="624.84,609.47 625.56,611.39 627.60,611.48 626.00,612.75 626.54,614.72 624.84,613.59 623.14,614.72 623.68,612.75 622.08,611.48 624.12,611.39" fill="#111"/><polygon points="664.34,605.09 665.06,607.00 667.10,607.09 665.50,608.37 666.04,610.34 664.34,609.21 662.64,610.34 663.18,608.37 661.58,607.09 663.62,607.00" fill="#111"/><rect x="354.60" y="579.60" width="315.50" height="137.40" fill="none" stroke="#333" stroke-width="0.75"/><path d="M359.40 717.00v2.4M391.00 717.00v2.4M422.60 717.00v2.4M454.20 717.00v2.4M485.80 717.00v2.4M517.40 717.00v2.4M549.00 717.00v2.4M580.60 717.00v2.4M612.20 717.00v2.4M643.80 717.00v2.4M375.20 717.00v1.4M406.80 717.00v1.4M438.40 717.00v1.4M470.00 717.00v1.4M501.60 717.00v1.4M533.20 717.00v1.4M564.80 717.00v1.4M596.40 717.00v1.4M628.00 717.00v1.4M659.60 717.00v1.4M354.60 717.00h-2.4M354.60 685.67h-2.4M354.60 654.35h-2.4M354.60 623.02h-2.4M354.60 591.70h-2.4M354.60 701.34h-1.4M354.60 670.01h-1.4M354.60 638.69h-1.4M354.60 607.36h-1.4" stroke="#222" stroke-width="0.7" fill="none"/><text x="359.40" y="730.00" font-size="8.20" text-anchor="middle">0</text><text x="391.00" y="730.00" font-size="8.20" text-anchor="middle">200</text><text x="422.60" y="730.00" font-size="8.20" text-anchor="middle">400</text><text x="454.20" y="730.00" font-size="8.20" text-anchor="middle">600</text><text x="485.80" y="730.00" font-size="8.20" text-anchor="middle">800</text><text x="517.40" y="730.00" font-size="8.20" text-anchor="middle">1000</text><text x="549.00" y="730.00" font-size="8.20" text-anchor="middle">1200</text><text x="580.60" y="730.00" font-size="8.20" text-anchor="middle">1400</text><text x="612.20" y="730.00" font-size="8.20" text-anchor="middle">1600</text><text x="643.80" y="730.00" font-size="8.20" text-anchor="middle">1800</text><text x="352.00" y="720.60" font-size="8.20" text-anchor="end">0</text><text x="352.00" y="689.27" font-size="8.20" text-anchor="end">5</text><text x="352.00" y="657.95" font-size="8.20" text-anchor="end">10</text><text x="352.00" y="626.62" font-size="8.20" text-anchor="end">15</text><text x="352.00" y="595.30" font-size="8.20" text-anchor="end">20</text><text x="512.20" y="741.40" font-size="9.80" text-anchor="middle">Aging time (hours)</text><text x="337.80" y="648.50" font-size="10.20" text-anchor="middle" transform="rotate(-90 337.80 648.50)">η<tspan dy="1.9" font-size="6.4">mpp</tspan><tspan dy="-1.9"> (%)</tspan></text><text x="325.40" y="594.80" font-size="13.60" font-weight="bold">n</text><text x="516.80" y="655.20" font-size="8.20" text-anchor="middle">85% relative humidity, 85 °C, encapsulated (ISOS-D-3)</text><text x="672.40" y="603.00" font-size="9.60" fill="#f26a6a">t<tspan dy="1.8" font-size="6">95</tspan></text><text x="672.40" y="630.30" font-size="9.60" fill="#6a7cf2">t<tspan dy="1.8" font-size="6">95</tspan></text><path d="M472.1 682.2h4.6M482.3 682.2h4.6" stroke="#5b6ef2" stroke-width="0.8"/><rect x="477.50" y="680.20" width="4.00" height="4.00" fill="#5b6ef2" stroke="none" stroke-width="0.60"/><text x="491.30" y="684.50" font-size="6.45">2D-precursor FAPbI<tspan dy="1.3" font-size="4.4">3</tspan><tspan dy="-1.3"> </tspan>median,</text><rect x="589.40" y="680.70" width="3.00" height="3.00" fill="none" stroke="#5b6ef2" stroke-width="0.60"/><text x="598.30" y="684.50" font-size="6.45">0.25 cm<tspan dy="-2.2" font-size="4.4">2</tspan><tspan dy="2.2">,</tspan></text><circle cx="632.30" cy="682.20" r="1.60" fill="none" stroke="#5b6ef2" stroke-width="0.60"/><text x="640.00" y="684.50" font-size="6.45">1.00 cm<tspan dy="-2.2" font-size="4.4">2</tspan></text><path d="M472.1 691.8h14.8" stroke="#111" stroke-width="0.8"/><polygon points="479.50,688.70 480.24,690.68 482.35,690.77 480.70,692.09 481.26,694.13 479.50,692.96 477.74,694.13 478.30,692.09 476.65,690.77 478.76,690.68" fill="#111"/><text x="491.30" y="693.90" font-size="6.45">2D-precursor FAPbI<tspan dy="1.3" font-size="4.4">3</tspan><tspan dy="-1.3"> </tspan>champion</text><path d="M472.1 701.5h4.6M482.3 701.5h4.6" stroke="#f26060" stroke-width="0.8"/><polygon points="479.50,698.80 482.08,703.34 476.92,703.34" fill="#f26060" stroke="#f26060" stroke-width="0.70"/><text x="491.30" y="703.60" font-size="6.45">FACs median,</text><polygon points="538.90,699.40 541.02,703.13 536.78,703.13" fill="none" stroke="#f26060" stroke-width="0.70"/><text x="545.90" y="703.60" font-size="6.45">0.25 cm<tspan dy="-2.2" font-size="4.4">2</tspan><tspan dy="2.2">,</tspan></text><polygon points="581.20,699.30 583.30,701.40 581.20,703.50 579.10,701.40" fill="none" stroke="#f26060" stroke-width="0.60"/><text x="588.60" y="703.60" font-size="6.45">1.00 cm<tspan dy="-2.2" font-size="4.4">2</tspan></text><rect x="362.9" y="686.9" width="12.1" height="9.2" fill="#c3faff"/><rect x="362.9" y="696.1" width="12.1" height="9.8" fill="#c8e4fa"/><rect x="385.8" y="686.9" width="12.1" height="9.2" fill="#faf4cb"/><rect x="385.8" y="696.1" width="12.1" height="9.8" fill="#fce0cc"/><text x="380.30" y="694.50" font-size="6.40" text-anchor="middle">&amp;</text><text x="380.30" y="703.70" font-size="6.40" text-anchor="middle">&amp;</text><text x="402.70" y="694.80" font-size="6.40">Range</text><text x="402.70" y="703.80" font-size="6.40">Interquartile range</text></svg></body></html>
